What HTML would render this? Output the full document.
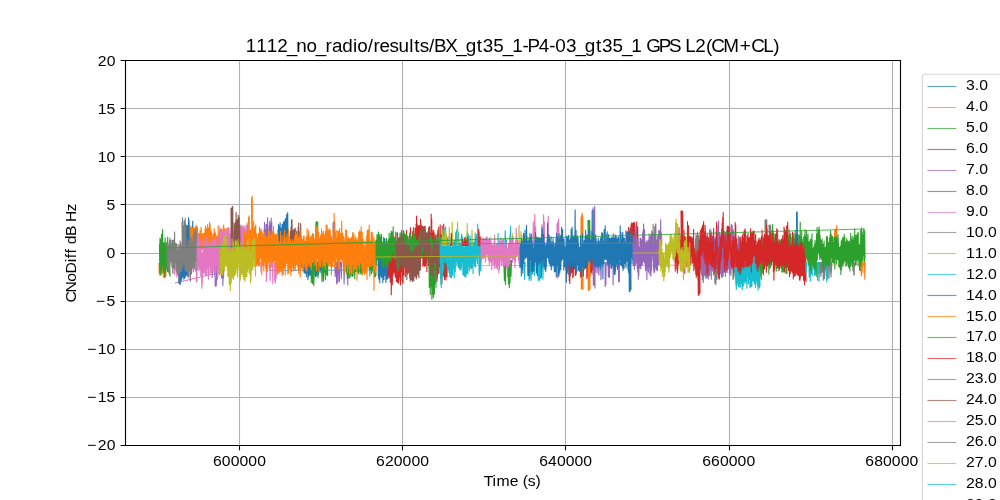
<!DOCTYPE html>
<html><head><meta charset="utf-8"><title>CNoDiff plot</title>
<style>html,body{margin:0;padding:0;background:#fff;overflow:hidden}svg{display:block;will-change:transform}text{font-family:"Liberation Sans",sans-serif}</style>
</head><body>
<svg width="1000" height="500" viewBox="0 0 1000 500" font-family="Liberation Sans, sans-serif">
<defs><clipPath id="clip"><rect x="125" y="60" width="775" height="385"/></clipPath></defs>
<rect width="1000" height="500" fill="#fff"/>
<path d="M239.5 60V445M402.5 60V445M565.5 60V445M729.5 60V445M892.5 60V445M125 108.5H900M125 156.5H900M125 204.5H900M125 253.5H900M125 301.5H900M125 349.5H900M125 397.5H900" stroke="#b0b0b0" stroke-width="1.11" fill="none"/><g clip-path="url(#clip)"><g fill="none" stroke-width="1.11" stroke-linejoin="round"><polyline points="175,266 865,265" stroke="#ff7f0e" stroke-opacity="0.6"/><polyline points="175,283 222,272" stroke="#e377c2"/><polyline points="270,270.5 376,270" stroke="#1f77b4" stroke-opacity="0.7"/><polyline points="159.0,263.1 159.3,273.4 159.5,266.1 159.8,275.2 160.0,263.3 160.3,274.9 160.6,265.5 160.8,273.5 161.1,262.5 161.3,273.0 161.6,259.2 161.9,272.9 162.1,262.6 162.4,271.3 162.6,262.4 162.9,274.1 163.1,265.3 163.4,277.0 163.7,264.6 163.9,270.7 164.2,267.8 164.4,278.0 164.7,267.3 165.0,275.7 165.2,265.9 165.5,276.9 165.7,262.9 166.0,276.1" stroke="#ff7f0e"/><polyline points="174.0,257.0 174.3,274.1 174.5,255.1 174.8,274.3 175.0,251.1 175.3,268.9 175.5,254.2 175.8,269.2 176.0,249.1 176.3,269.4 176.5,256.1 176.8,276.9 177.0,252.1 177.3,273.8 177.5,250.9 177.8,273.9 178.0,258.1 178.3,274.2 178.5,255.0 178.8,274.0 179.1,247.2 179.3,263.5 179.6,249.8 179.8,267.1 180.1,252.5 180.3,268.9 180.6,253.4 180.8,274.3 181.1,246.0 181.3,266.5 181.6,253.1 181.8,275.2 182.1,254.9 182.3,270.6 182.6,251.4 182.8,272.1 183.1,259.4 183.4,279.7 183.6,254.9 183.9,276.8 184.1,259.9 184.4,276.3 184.6,258.5 184.9,272.5 185.1,255.7 185.4,273.5 185.6,251.0 185.9,277.1 186.1,257.8 186.4,275.2 186.6,258.4 186.9,274.2 187.1,255.6 187.4,275.3 187.6,254.1 187.9,275.6 188.2,252.2 188.4,276.8 188.7,256.4 188.9,278.3 189.2,256.8 189.4,275.6 189.7,256.3 189.9,270.8 190.2,250.5 190.4,271.4 190.7,248.2 190.9,267.4 191.2,248.1 191.4,263.6 191.7,247.3 191.9,265.7 192.2,254.9 192.5,268.1 192.7,254.8 193.0,270.9 193.2,253.3 193.5,271.9 193.7,246.5 194.0,268.5 194.2,246.3 194.5,265.8 194.7,252.5 195.0,269.6 195.2,250.8 195.5,270.4 195.7,252.9 196.0,271.6 196.2,253.8 196.5,282.0 196.7,257.2 197.0,282.0" stroke="#e377c2"/><polyline points="178.0,258.6 178.3,275.1 178.5,251.2 178.8,282.9 179.0,261.3 179.3,282.3 179.5,245.5 179.8,284.3 180.1,259.0 180.3,284.3 180.6,249.5 180.8,273.0 181.1,258.1 181.3,280.6 181.6,255.7 181.8,278.3 182.1,258.3 182.4,273.6 182.6,252.6 182.9,277.2 183.1,255.2 183.4,275.6 183.6,255.8 183.9,276.2 184.2,253.1 184.4,278.6 184.7,253.7 184.9,277.2 185.2,256.1 185.4,276.0 185.7,259.5 185.9,275.0 186.2,252.6 186.5,274.8 186.7,246.9 187.0,274.6 187.2,245.0 187.5,272.2 187.7,247.0 188.0,277.0" stroke="#1f77b4"/><polyline points="186.0,227.3 186.3,245.1 186.5,225.3 186.8,241.6 187.0,225.8 187.3,248.3 187.6,227.9 187.8,244.2 188.1,225.1 188.3,250.6 188.6,217.6 188.9,246.9 189.1,220.3 189.4,243.2 189.6,226.5 189.9,248.6 190.1,229.2 190.4,248.1 190.7,234.5 190.9,249.2 191.2,229.2 191.4,250.6 191.7,228.1 192.0,250.4 192.2,226.0 192.5,250.3 192.7,221.2 193.0,244.8" stroke="#1f77b4"/><polyline points="159.5,243.8 159.8,272.9 160.0,238.0 160.3,266.0 160.5,243.4 160.8,275.2 161.0,239.6 161.3,266.2 161.5,234.6 161.8,269.4 162.1,233.9 162.3,258.4 162.6,229.5 162.8,265.2 163.1,243.2 163.3,272.8 163.6,249.5 163.9,271.2 164.1,242.4 164.4,268.5 164.6,247.1 164.9,277.1 165.1,237.8 165.4,273.6 165.6,248.7 165.9,270.3 166.2,243.7 166.4,267.9 166.7,242.6 166.9,263.6 167.2,242.0 167.4,271.7 167.7,237.1 168.0,269.7 168.2,250.1 168.5,271.5 168.7,247.6 169.0,272.8 169.2,251.5 169.5,274.4 169.7,256.2 170.0,276.8" stroke="#2ca02c"/><polyline points="190.0,225.3 190.3,246.3 190.5,230.4 190.8,246.9 191.0,227.5 191.3,248.7 191.5,231.3 191.8,244.8 192.0,228.2 192.3,246.5 192.5,229.1 192.8,244.7 193.0,227.5 193.3,246.4 193.5,231.0 193.8,246.2 194.0,228.0 194.3,244.4 194.5,228.3 194.8,247.8 195.0,230.0 195.3,249.3 195.5,227.2 195.8,245.6 196.0,225.3 196.3,243.6 196.5,230.7 196.8,243.0 197.0,226.4 197.3,255.8 197.5,228.0 197.8,243.8 198.1,234.0 198.3,255.3 198.6,233.9 198.8,251.6 199.1,233.8 199.3,255.7 199.6,234.5 199.8,248.0 200.1,230.6 200.3,245.3 200.6,231.5 200.8,245.8 201.1,227.2 201.3,249.9 201.6,235.5 201.8,248.3 202.1,234.2 202.3,248.7 202.6,233.5 202.8,248.7 203.1,235.9 203.3,247.8 203.6,233.5 203.8,249.9 204.1,235.6 204.3,251.4 204.6,232.7 204.8,252.1 205.1,228.7 205.4,248.2 205.6,226.0 205.9,248.9 206.1,234.4 206.4,254.2 206.6,228.7 206.9,249.4 207.1,231.2 207.4,247.6 207.6,224.6 207.9,243.8 208.1,230.3 208.4,250.6 208.6,227.8 208.9,244.8 209.1,228.5 209.4,242.3 209.6,222.1 209.9,247.3 210.1,224.1 210.4,247.1 210.6,229.3 210.9,246.9 211.1,231.0 211.4,249.8 211.6,232.6 211.9,249.5 212.1,236.6 212.4,252.3 212.6,236.4 212.9,250.9 213.2,234.0 213.4,254.4 213.7,234.9 213.9,246.5 214.2,228.9 214.4,250.0 214.7,231.5 214.9,246.8 215.2,232.6 215.4,251.0 215.7,233.7 215.9,246.5 216.2,235.3 216.4,248.9 216.7,239.9 216.9,254.3 217.2,237.6 217.4,253.5 217.7,236.5 217.9,251.1 218.2,225.6 218.4,248.6 218.7,237.2 218.9,249.7 219.2,234.9 219.4,251.3 219.7,229.0 219.9,249.0 220.2,238.6 220.5,253.3 220.7,233.4 221.0,247.6 221.2,237.4 221.5,253.0 221.7,237.5 222.0,247.5 222.2,234.6 222.5,247.9 222.7,229.5 223.0,243.3 223.2,226.7 223.5,245.6 223.7,224.9 224.0,247.3 224.2,228.9 224.5,240.4 224.7,229.1 225.0,243.6 225.2,232.2 225.5,247.6 225.7,231.5 226.0,249.7 226.2,228.3 226.5,244.7 226.7,235.1 227.0,249.3 227.2,231.5 227.5,245.0 227.7,227.9 228.0,244.9" stroke="#ff7f0e"/><polyline points="167.0,242.8 167.3,266.5 167.5,240.9 167.8,268.5 168.0,243.6 168.3,271.6 168.5,246.1 168.8,271.7 169.0,245.1 169.3,273.5 169.5,240.3 169.8,264.1 170.0,238.1 170.3,262.5 170.5,241.5 170.8,259.1 171.0,240.3 171.3,261.2 171.5,243.8 171.8,266.3 172.0,248.4 172.3,267.4 172.5,240.1 172.8,273.3 173.1,243.3 173.3,269.1 173.6,240.1 173.8,268.0 174.1,242.6 174.3,268.0 174.6,232.0 174.8,263.2 175.1,243.1 175.3,261.2 175.6,244.5 175.8,261.8 176.1,243.3 176.3,272.2 176.6,244.3 176.8,266.8 177.1,253.3 177.3,270.3 177.6,249.8 177.8,274.7 178.1,244.4 178.3,271.8 178.6,251.3 178.8,281.5 179.1,249.1 179.4,273.4 179.6,246.2 179.9,272.2 180.1,240.8 180.4,267.0 180.6,243.0 180.9,270.4 181.1,243.1 181.4,271.1 181.6,247.4 181.9,267.7 182.1,247.8 182.4,267.8 182.6,238.5 182.9,267.5 183.1,237.1 183.4,262.4 183.6,239.2 183.9,261.6 184.1,241.3 184.4,262.7 184.6,245.2 184.9,269.6 185.2,242.6 185.4,269.4 185.7,245.4 185.9,271.3 186.2,245.1 186.4,270.7 186.7,248.2 186.9,271.3 187.2,251.2 187.4,269.1 187.7,248.6 187.9,276.6 188.2,240.5 188.4,270.1 188.7,239.2 188.9,270.3 189.2,242.9 189.4,268.4 189.7,250.1 189.9,270.8 190.2,248.4 190.4,281.3 190.7,236.6 190.9,267.5 191.2,245.1 191.5,274.0 191.7,239.6 192.0,266.0 192.2,242.7 192.5,267.9 192.7,247.0 193.0,267.0 193.2,235.0 193.5,264.1 193.7,240.5 194.0,258.1 194.2,230.0 194.5,268.6 194.7,232.9 195.0,260.1 195.2,235.2 195.5,261.4 195.7,227.7 196.0,254.6 196.2,230.8 196.5,252.3 196.7,239.4 197.0,270.5" stroke="#7f7f7f"/><polyline points="182.0,222.2 182.3,248.6 182.5,217.6 182.8,245.8 183.1,225.5 183.3,245.2 183.6,227.6 183.9,255.8 184.1,220.7 184.4,249.1 184.7,221.0 184.9,247.3 185.2,218.2 185.5,249.2 185.7,223.7 186.0,247.0" stroke="#7f7f7f"/><path d="M211.9 264.0L212.2 277.4L212.4 264.0M214.4 264.0L214.7 275.3L215.0 264.0M215.0 264.0L215.2 285.8L215.3 264.0M215.6 264.0L215.9 286.6L216.3 264.0M215.9 264.0L216.3 284.9L216.8 264.0M216.0 264.0L216.4 274.8L216.8 264.0M221.1 264.0L221.6 277.9L222.2 264.0M222.4 264.0L222.9 280.0L223.4 264.0M222.6 264.0L222.9 285.5L223.3 264.0M223.1 264.0L223.5 277.9L224.0 264.0" stroke="#9467bd"/><polyline points="197.0,242.4 197.3,263.2 197.5,240.1 197.8,266.2 198.0,237.2 198.3,263.7 198.5,235.1 198.8,270.7 199.0,238.1 199.3,265.5 199.5,238.4 199.8,269.3 200.0,246.7 200.3,263.9 200.5,251.4 200.8,275.7 201.0,239.3 201.3,272.3 201.5,251.9 201.8,288.3 202.1,257.1 202.3,284.3 202.6,253.9 202.8,272.6 203.1,240.5 203.3,269.5 203.6,250.1 203.8,273.5 204.1,250.8 204.3,272.1 204.6,244.0 204.8,271.6 205.1,241.5 205.3,275.6 205.6,240.7 205.8,268.9 206.1,235.4 206.3,275.2 206.6,244.8 206.9,267.6 207.1,236.8 207.4,268.5 207.6,242.0 207.9,275.3 208.1,244.1 208.4,279.3 208.6,246.4 208.9,264.8 209.1,241.5 209.4,265.3 209.6,248.3 209.9,274.4 210.1,248.1 210.4,272.3 210.6,245.2 210.9,272.7 211.1,242.5 211.4,270.7 211.7,240.6 211.9,271.4 212.2,243.4 212.4,271.2 212.7,240.3 212.9,270.1 213.2,237.0 213.4,265.2 213.7,245.2 213.9,272.9 214.2,246.0 214.4,265.9 214.7,238.7 214.9,264.4 215.2,242.0 215.4,278.0 215.7,235.7 215.9,260.6 216.2,238.5 216.5,266.4 216.7,244.5 217.0,272.1 217.2,245.8 217.5,279.3 217.7,251.7 218.0,276.6 218.2,243.9 218.5,270.1 218.7,245.2 219.0,269.2 219.2,236.8 219.5,274.4 219.7,238.1 220.0,272.3 220.2,240.8 220.5,265.8 220.7,239.8 221.0,271.3" stroke="#e377c2"/><polyline points="220.0,226.7 220.3,248.6 220.5,229.6 220.8,252.7 221.0,231.2 221.3,248.6 221.5,229.3 221.8,248.0 222.0,233.5 222.3,249.9 222.5,232.4 222.8,251.9 223.0,231.7 223.3,249.0 223.5,227.6 223.8,248.8 224.0,237.1 224.3,254.5 224.5,232.2 224.8,253.0 225.0,230.6 225.3,259.8 225.5,231.3 225.8,248.7 226.1,230.1 226.3,254.1 226.6,233.1 226.8,255.0 227.1,237.7 227.3,253.4 227.6,232.4 227.8,250.8 228.1,235.9 228.3,256.4 228.6,227.6 228.8,250.5 229.1,228.6 229.3,256.8 229.6,236.7 229.8,252.9 230.1,233.6 230.3,254.7 230.6,233.8 230.8,252.9 231.1,227.4 231.4,250.3 231.6,226.6 231.9,247.6 232.1,232.2 232.4,248.7 232.6,233.9 232.9,248.3 233.1,231.6 233.4,254.9 233.6,236.8 233.9,250.3 234.1,239.4 234.4,254.4 234.6,237.5 234.9,257.0 235.1,239.5 235.4,261.2 235.6,238.2 235.9,254.1 236.1,235.7 236.4,254.8 236.6,241.1 236.9,258.6 237.2,243.9 237.4,258.9 237.7,229.3 237.9,252.8 238.2,237.3 238.4,254.4 238.7,235.6 238.9,252.4 239.2,237.2 239.4,253.0 239.7,226.0 239.9,251.0 240.2,225.5 240.4,246.3 240.7,227.6 240.9,254.3 241.2,233.2 241.4,250.7 241.7,225.3 241.9,247.5 242.2,227.2 242.5,245.7 242.7,226.8 243.0,247.4 243.2,227.6 243.5,246.4 243.7,226.1 244.0,246.5 244.2,228.8 244.5,246.7 244.7,229.6 245.0,253.6 245.2,225.9 245.5,245.6 245.7,230.0 246.0,249.9 246.2,231.5 246.5,254.6 246.7,225.3 247.0,249.4 247.2,222.7 247.5,249.5 247.7,228.3 248.0,241.6" stroke="#e377c2"/><polyline points="231.0,208.3 231.3,249.2 231.6,208.4 231.9,250.4 232.1,206.7 232.4,250.9 232.7,206.6 233.0,249.0" stroke="#8c564b"/><polyline points="234.0,222.4 234.3,254.3 234.5,224.7 234.8,251.9 235.0,228.2 235.3,249.1 235.6,221.7 235.8,249.1 236.1,212.4 236.3,243.9 236.6,219.6 236.9,251.2 237.1,221.9 237.4,248.1 237.7,219.3 237.9,258.5 238.2,215.0 238.4,249.4 238.7,223.0 239.0,245.3 239.2,217.2 239.5,252.9 239.7,224.5 240.0,252.2" stroke="#8c564b"/><polyline points="244.0,231.4 244.3,251.1 244.5,231.0 244.8,255.5 245.0,232.3 245.3,258.6 245.5,235.7 245.8,257.3 246.0,236.1 246.3,257.8 246.6,234.5 246.8,265.1 247.1,232.7 247.3,257.2 247.6,224.9 247.8,251.9 248.1,228.2 248.3,254.2 248.6,236.0 248.9,255.7 249.1,235.1 249.4,255.6 249.6,235.9 249.9,249.0 250.1,230.6 250.4,258.4 250.6,235.6 250.9,255.0 251.1,229.5 251.4,261.3 251.7,236.9 251.9,255.4 252.2,227.9 252.4,252.0 252.7,230.3 252.9,253.2 253.2,230.8 253.4,253.9 253.7,221.9 254.0,249.0 254.2,227.8 254.5,249.8 254.7,227.3 255.0,255.7 255.2,228.4 255.5,251.3 255.7,225.0 256.0,251.0" stroke="#ff7f0e"/><polyline points="248.5,216.9 248.8,239.9 249.2,215.9 249.5,239.9" stroke="#ff7f0e"/><polyline points="251.5,197.4 251.8,239.7 252.2,196.4 252.5,239.3" stroke="#ff7f0e"/><polyline points="220.0,249.4 220.3,271.2 220.5,250.8 220.8,275.5 221.0,246.3 221.3,271.2 221.5,252.8 221.8,273.8 222.0,252.0 222.3,275.0 222.5,243.1 222.8,274.3 223.0,244.9 223.3,270.2 223.5,236.7 223.8,264.6 224.0,236.5 224.3,266.8 224.5,240.8 224.8,270.8 225.0,236.0 225.3,265.4 225.5,229.6 225.8,260.1 226.0,235.1 226.3,264.2 226.5,244.8 226.8,265.3 227.0,245.4 227.3,269.5 227.6,251.9 227.8,276.1 228.1,254.0 228.3,276.4 228.6,249.1 228.8,276.0 229.1,250.1 229.3,284.8 229.6,255.0 229.8,280.1 230.1,257.5 230.3,290.4 230.6,252.1 230.8,283.7 231.1,248.6 231.3,282.4 231.6,254.7 231.8,276.7 232.1,238.9 232.3,276.0 232.6,250.1 232.8,278.1 233.1,247.6 233.3,279.4 233.6,241.8 233.8,269.1 234.1,252.5 234.3,275.9 234.6,250.6 234.9,275.0 235.1,244.7 235.4,274.3 235.6,240.0 235.9,272.6 236.1,250.2 236.4,268.6 236.6,241.3 236.9,264.7 237.1,248.1 237.4,276.4 237.6,245.7 237.9,263.7 238.1,239.4 238.4,263.7 238.6,243.5 238.9,270.0 239.1,250.4 239.4,278.6 239.6,246.7 239.9,281.3 240.1,250.8 240.4,279.3 240.6,247.9 240.9,274.8 241.1,242.6 241.4,274.5 241.7,246.9 241.9,271.0 242.2,246.1 242.4,272.8 242.7,250.9 242.9,276.3 243.2,246.5 243.4,274.3 243.7,251.1 243.9,279.4 244.2,248.5 244.4,278.8 244.7,253.8 244.9,281.6 245.2,250.5 245.4,277.7 245.7,253.7 245.9,275.1 246.2,248.9 246.4,276.3 246.7,252.0 246.9,276.7 247.2,242.1 247.4,271.4 247.7,240.5 247.9,264.3 248.2,245.2 248.4,268.1 248.7,250.1 249.0,272.7 249.2,238.4 249.5,272.3 249.7,252.6 250.0,274.5 250.2,248.9 250.5,282.6 250.7,259.1 251.0,278.9 251.2,250.9 251.5,270.6 251.7,246.9 252.0,267.2 252.2,240.9 252.5,265.9 252.7,240.7 253.0,270.0 253.2,241.3 253.5,260.0 253.7,238.4 254.0,261.1 254.2,240.8 254.5,266.2 254.7,240.0 255.0,264.2 255.2,239.2 255.5,276.0 255.7,236.4 256.0,259.1" stroke="#bcbd22"/><path d="M260.8 262.0L261.1 272.1L261.4 262.0M266.1 262.0L266.4 281.5L266.8 262.0M266.2 262.0L266.4 273.0L266.6 262.0M267.1 262.0L267.6 271.1L268.1 262.0M269.8 262.0L270.1 281.0L270.4 262.0M272.4 262.0L272.8 283.8L273.1 262.0M274.6 262.0L274.7 280.5L274.9 262.0M274.9 262.0L275.3 283.1L275.8 262.0M275.4 262.0L275.9 277.9L276.3 262.0M275.8 262.0L276.1 278.4L276.3 262.0M275.9 262.0L276.4 272.4L276.8 262.0M280.2 262.0L280.5 271.1L280.7 262.0M281.4 262.0L281.9 273.1L282.4 262.0M281.7 262.0L282.1 275.6L282.5 262.0" stroke="#e377c2"/><polyline points="264.0,229.4 264.3,243.8 264.5,222.4 264.8,247.5 265.0,230.3 265.3,250.2 265.5,229.2 265.8,243.5 266.1,224.1 266.3,250.8 266.6,225.7 266.8,243.8 267.1,224.3 267.4,249.2 267.6,217.7 267.9,249.3 268.1,229.9 268.4,245.6 268.6,229.5 268.9,245.6 269.2,225.2 269.4,247.7 269.7,221.3 269.9,242.9 270.2,223.5 270.5,249.5 270.7,227.5 271.0,247.3 271.2,218.1 271.5,242.0 271.7,222.1 272.0,240.5" stroke="#9467bd"/><polyline points="278.0,229.5 278.3,246.8 278.5,224.6 278.8,249.6 279.0,229.8 279.3,252.0 279.5,226.2 279.8,250.6 280.1,222.7 280.3,248.3 280.6,228.4 280.8,254.3 281.1,228.0 281.3,247.7 281.6,229.7 281.8,246.1 282.1,224.4 282.4,251.2 282.6,233.8 282.9,255.5 283.1,223.6 283.4,252.4 283.6,221.9 283.9,250.6 284.2,227.9 284.4,255.4 284.7,221.2 284.9,246.4 285.2,218.8 285.4,241.2 285.7,222.4 285.9,249.7 286.2,218.1 286.5,252.9 286.7,214.6 287.0,241.8 287.2,216.1 287.5,248.0 287.7,212.6 288.0,239.8" stroke="#1f77b4"/><polyline points="290.0,235.5 290.3,252.7 290.5,231.2 290.8,261.0 291.0,227.1 291.3,255.3 291.5,220.0 291.8,255.0 292.0,219.9 292.3,246.6 292.6,230.6 292.8,255.7 293.1,230.9 293.3,251.7 293.6,229.7 293.8,250.2 294.1,232.1 294.3,253.5 294.6,228.8 294.9,249.0 295.1,228.0 295.4,254.1 295.6,230.1 295.9,249.3 296.1,231.1 296.4,255.0 296.7,232.3 296.9,251.1 297.2,233.9 297.4,251.5 297.7,232.4 297.9,249.6 298.2,227.0 298.4,252.9 298.7,222.8 299.0,249.3 299.2,232.8 299.5,255.6 299.7,235.8 300.0,252.4 300.2,230.9 300.5,255.0 300.7,223.5 301.0,256.0" stroke="#8c564b"/><polyline points="298.0,257.4 298.3,269.8 298.5,260.7 298.8,268.9 299.0,255.9 299.3,267.3 299.5,252.2 299.8,265.9 300.0,251.9 300.3,261.4 300.5,251.4 300.8,262.6 301.0,251.9 301.3,264.6 301.5,253.7 301.8,267.9 302.0,255.3 302.3,264.5 302.5,254.9 302.8,263.8 303.1,256.4 303.3,269.8 303.6,259.9 303.8,271.9 304.1,256.1 304.3,271.3 304.6,259.1 304.8,273.3 305.1,260.0 305.3,271.4 305.6,259.9 305.8,273.0 306.1,260.8 306.3,276.7 306.6,261.2 306.8,271.1 307.1,260.3 307.3,273.0 307.6,257.6 307.9,279.7 308.1,263.3 308.4,277.0 308.6,262.1 308.9,272.4 309.1,263.2 309.4,275.1 309.6,263.5 309.9,274.7 310.1,262.0 310.4,271.7 310.6,261.5 310.9,275.7 311.1,255.2 311.4,271.2 311.6,256.1 311.9,268.4 312.1,256.2 312.4,267.5 312.7,257.7 312.9,268.6 313.2,254.9 313.4,269.8 313.7,258.0 313.9,268.8 314.2,260.6 314.4,271.6 314.7,258.0 314.9,275.3 315.2,264.4 315.4,276.7 315.7,262.0 315.9,274.6 316.2,267.6 316.4,275.9 316.7,261.9 316.9,273.1 317.2,263.3 317.5,275.0 317.7,263.0 318.0,275.2 318.2,260.2 318.5,274.1 318.7,258.7 319.0,272.3 319.2,257.7 319.5,269.3 319.7,259.8 320.0,269.7 320.2,257.7 320.5,270.6 320.7,259.8 321.0,273.0 321.2,258.5 321.5,265.8 321.7,254.7 322.0,266.0" stroke="#1f77b4"/><path d="M310.9 262.0L311.3 282.4L311.7 262.0M311.1 262.0L311.6 278.5L312.0 262.0M312.1 262.0L312.6 283.8L313.2 262.0M313.3 262.0L313.8 285.4L314.4 262.0M317.1 262.0L317.4 274.6L317.7 262.0M317.6 262.0L318.0 277.7L318.4 262.0M321.6 262.0L322.0 281.5L322.5 262.0M323.0 262.0L323.4 281.2L323.8 262.0M324.2 262.0L324.6 272.4L324.9 262.0M324.9 262.0L325.2 276.7L325.6 262.0M324.9 262.0L325.4 279.7L325.9 262.0M326.3 262.0L326.7 273.8L327.2 262.0M326.3 262.0L326.5 274.6L326.7 262.0M327.4 262.0L327.6 275.7L327.8 262.0" stroke="#2ca02c"/><polyline points="316.0,221.7 316.3,245.6 316.6,221.9 316.9,245.2 317.1,222.9 317.4,244.9 317.7,221.7 318.0,245.2" stroke="#2ca02c"/><polyline points="333.0,222.7 333.3,244.5 333.6,222.0 333.9,244.7 334.1,222.1 334.4,245.2 334.7,221.9 335.0,245.2" stroke="#9467bd"/><path d="M334.7 262.0L335.2 276.5L335.6 262.0M336.2 262.0L336.7 284.0L337.1 262.0M337.0 262.0L337.6 282.6L338.1 262.0M338.8 262.0L339.1 281.6L339.3 262.0M339.0 262.0L339.4 281.6L339.7 262.0M339.1 262.0L339.4 278.7L339.6 262.0M340.7 262.0L341.3 278.5L341.8 262.0M343.6 262.0L344.1 282.7L344.7 262.0M343.7 262.0L344.1 283.9L344.4 262.0M347.5 262.0L347.8 285.1L348.2 262.0" stroke="#9467bd"/><polyline points="346.0,259.9 346.3,271.6 346.5,263.0 346.8,273.9 347.0,261.3 347.3,278.2 347.5,264.5 347.8,278.2 348.0,261.7 348.3,276.1 348.5,262.1 348.8,277.3 349.0,265.0 349.3,276.2 349.5,262.4 349.8,277.9 350.0,260.8 350.3,273.2 350.5,259.2 350.8,275.6 351.0,260.3 351.3,275.7 351.5,259.7 351.8,274.0 352.1,259.1 352.3,276.7 352.6,264.2 352.8,275.2 353.1,259.2 353.3,275.4 353.6,258.3 353.8,267.2 354.1,259.9 354.3,273.6 354.6,259.8 354.8,278.8 355.1,256.7 355.3,268.5 355.6,258.3 355.8,271.5 356.1,253.6 356.3,271.7 356.6,253.5 356.8,270.5 357.1,256.9 357.3,269.2 357.6,258.5 357.8,272.4 358.1,257.8 358.4,269.6 358.6,255.6 358.9,274.3 359.1,258.1 359.4,270.6 359.6,258.3 359.9,271.0 360.1,259.5 360.4,272.3 360.6,262.7 360.9,274.2 361.1,259.8 361.4,271.7 361.6,259.7 361.9,273.2 362.1,256.3 362.4,269.6 362.6,256.3 362.9,270.0 363.1,257.3 363.4,269.8 363.6,257.7 363.9,269.8 364.2,257.0 364.4,269.4 364.7,256.4 364.9,273.8 365.2,258.7 365.4,267.1 365.7,253.6 365.9,266.9 366.2,254.2 366.4,269.4 366.7,252.2 366.9,261.5 367.2,249.2 367.4,261.1 367.7,252.3 367.9,265.2 368.2,254.4 368.4,265.9 368.7,251.8 368.9,265.0 369.2,256.6 369.4,269.2 369.7,260.9 369.9,276.0 370.2,261.4 370.5,269.2 370.7,259.9 371.0,269.6 371.2,257.6 371.5,273.6 371.7,256.0 372.0,268.0 372.2,260.2 372.5,270.2 372.7,258.2 373.0,271.9 373.2,252.5 373.5,268.7 373.7,260.5 374.0,272.6 374.2,260.5 374.5,277.0 374.7,261.1 375.0,275.5 375.2,262.9 375.5,276.5 375.7,262.8 376.0,275.4" stroke="#2ca02c"/><polyline points="256.0,237.3 256.3,265.2 256.5,233.9 256.8,264.4 257.0,237.9 257.3,263.2 257.5,237.7 257.8,259.4 258.0,242.6 258.3,265.5 258.5,233.3 258.8,264.8 259.0,234.3 259.3,265.5 259.5,227.0 259.8,263.6 260.0,235.3 260.3,257.0 260.5,229.6 260.8,258.0 261.0,228.9 261.3,259.1 261.5,235.0 261.8,275.0 262.0,231.6 262.3,264.0 262.5,237.2 262.8,264.8 263.0,233.7 263.3,263.0 263.5,235.9 263.8,270.9 264.0,235.6 264.3,261.0 264.5,242.9 264.8,262.2 265.0,232.1 265.3,265.4 265.5,238.8 265.8,268.4 266.0,238.2 266.3,271.4 266.5,237.1 266.8,261.8 267.0,239.3 267.3,267.1 267.5,236.4 267.8,262.7 268.0,236.7 268.3,261.6 268.5,229.9 268.8,262.1 269.0,234.4 269.3,261.6 269.5,231.5 269.8,270.4 270.0,235.9 270.3,255.4 270.5,235.5 270.8,260.7 271.0,234.6 271.3,267.1 271.5,234.7 271.8,261.8 272.0,231.3 272.3,262.6 272.5,232.2 272.8,259.7 273.0,237.6 273.3,262.3 273.5,226.6 273.8,257.3 274.0,233.8 274.3,260.8 274.5,237.1 274.8,258.0 275.0,233.7 275.3,260.9 275.5,235.4 275.8,269.4 276.0,236.8 276.3,266.9 276.5,234.3 276.8,261.6 277.0,234.2 277.3,274.5 277.5,241.8 277.8,271.3 278.0,236.5 278.3,265.2 278.5,241.3 278.8,273.5 279.0,243.9 279.3,269.8 279.5,243.3 279.8,272.2 280.1,241.6 280.3,271.2 280.6,231.2 280.8,265.7 281.1,244.6 281.3,265.0 281.6,243.1 281.8,270.8 282.1,235.9 282.3,267.4 282.6,243.2 282.8,274.2 283.1,247.4 283.3,274.6 283.6,239.5 283.8,262.0 284.1,234.8 284.3,268.2 284.6,230.3 284.8,264.2 285.1,242.7 285.3,275.0 285.6,241.9 285.8,265.4 286.1,237.0 286.3,263.4 286.6,240.2 286.8,263.3 287.1,234.1 287.3,262.5 287.6,243.3 287.8,274.0 288.1,242.6 288.3,266.6 288.6,229.2 288.8,272.9 289.1,245.5 289.3,268.6 289.6,239.2 289.8,268.7 290.1,240.8 290.3,262.5 290.6,239.5 290.8,275.7 291.1,241.5 291.3,269.8 291.6,243.3 291.8,271.5 292.1,243.4 292.3,265.6 292.6,239.6 292.8,260.9 293.1,243.1 293.3,268.8 293.6,246.4 293.8,271.0 294.1,240.8 294.3,267.5 294.6,236.0 294.8,260.8 295.1,237.3 295.3,270.1 295.6,231.8 295.8,255.9 296.1,235.6 296.3,264.6 296.6,234.1 296.8,259.5 297.1,238.7 297.3,264.1 297.6,231.5 297.8,261.3 298.1,236.4 298.3,262.6 298.6,242.1 298.8,274.0 299.1,238.5 299.3,269.9 299.6,235.2 299.8,262.7 300.1,230.7 300.3,277.0 300.6,242.9 300.8,256.4 301.1,238.8 301.3,261.2 301.6,236.0 301.8,265.1 302.1,239.5 302.3,269.1 302.6,240.4 302.8,263.6 303.1,238.9 303.3,272.1 303.6,236.4 303.8,263.8 304.1,236.0 304.4,262.8 304.6,241.5 304.9,267.0 305.1,241.3 305.4,268.4 305.6,243.6 305.9,269.9 306.1,237.1 306.4,265.9 306.6,240.1 306.9,270.9 307.1,228.5 307.4,264.7 307.6,235.6 307.9,263.9 308.1,236.7 308.4,264.3 308.6,230.9 308.9,266.6 309.1,235.2 309.4,259.9 309.6,238.2 309.9,260.3 310.1,237.7 310.4,266.1 310.6,239.2 310.9,267.2 311.1,236.2 311.4,269.3 311.6,238.6 311.9,257.0 312.1,235.0 312.4,262.3 312.6,233.4 312.9,260.3 313.1,235.5 313.4,262.6 313.6,234.0 313.9,259.0 314.1,241.7 314.4,260.1 314.6,240.0 314.9,264.6 315.1,238.2 315.4,265.6 315.6,225.4 315.9,263.7 316.1,228.5 316.4,270.8 316.6,227.5 316.9,259.1 317.1,225.9 317.4,256.3 317.6,225.8 317.9,258.8 318.1,232.2 318.4,257.5 318.6,232.4 318.9,270.2 319.1,239.8 319.4,264.1 319.6,238.3 319.9,264.5 320.1,237.4 320.4,266.6 320.6,235.1 320.9,264.1 321.1,237.3 321.4,255.8 321.6,228.9 321.9,260.0 322.1,241.4 322.4,260.6 322.6,233.2 322.9,266.9 323.1,233.9 323.4,257.5 323.6,231.3 323.9,265.8 324.1,240.7 324.4,265.2 324.6,234.8 324.9,264.4 325.1,237.1 325.4,269.2 325.6,231.3 325.9,261.2 326.1,224.9 326.4,259.5 326.6,232.0 326.9,262.0 327.1,225.3 327.4,263.0 327.6,243.6 327.9,264.5 328.2,230.3 328.4,262.6 328.7,234.5 328.9,265.7 329.2,228.6 329.4,259.2 329.7,236.8 329.9,263.2 330.2,230.3 330.4,266.1 330.7,236.2 330.9,259.6 331.2,235.9 331.4,274.8 331.7,237.2 331.9,266.2 332.2,240.5 332.4,260.2 332.7,241.4 332.9,266.4 333.2,229.8 333.4,258.2 333.7,228.5 333.9,261.2 334.2,213.3 334.4,257.2 334.7,234.5 334.9,266.4 335.2,232.8 335.4,264.5 335.7,234.2 335.9,266.9 336.2,230.5 336.4,258.2 336.7,237.8 336.9,258.3 337.2,237.8 337.4,262.3 337.7,230.7 337.9,259.9 338.2,237.2 338.4,269.8 338.7,231.2 338.9,262.9 339.2,243.0 339.4,268.3 339.7,228.5 339.9,259.1 340.2,233.3 340.4,258.0 340.7,234.1 340.9,261.6 341.2,234.5 341.4,255.0 341.7,221.1 341.9,258.7 342.2,233.4 342.4,262.0 342.7,233.0 342.9,259.4 343.2,240.5 343.4,260.6 343.7,236.6 343.9,266.9 344.2,238.1 344.4,269.9 344.7,244.7 344.9,273.0 345.2,242.0 345.4,264.0 345.7,229.7 345.9,264.5 346.2,241.3 346.4,260.5 346.7,230.2 346.9,265.0 347.2,241.5 347.4,272.1 347.7,239.3 347.9,259.4 348.2,236.8 348.4,263.5 348.7,237.9 348.9,268.5 349.2,242.7 349.4,275.2 349.7,239.4 349.9,269.5 350.2,242.3 350.4,272.8 350.7,238.2 350.9,269.9 351.2,237.5 351.4,275.7 351.7,243.0 351.9,273.4 352.2,237.0 352.5,264.3 352.7,232.5 353.0,263.6 353.2,233.6 353.5,274.6 353.7,233.7 354.0,269.2 354.2,240.0 354.5,268.9 354.7,240.8 355.0,269.5 355.2,235.9 355.5,264.6 355.7,238.5 356.0,267.9 356.2,240.4 356.5,269.5 356.7,243.7 357.0,280.2 357.2,237.8 357.5,264.5 357.7,242.0 358.0,264.8 358.2,241.4 358.5,260.4 358.7,232.2 359.0,267.5 359.2,236.3 359.5,269.6 359.7,230.6 360.0,258.6 360.2,231.8 360.5,262.8 360.7,238.2 361.0,262.1 361.2,226.7 361.5,266.7 361.7,234.7 362.0,268.7 362.2,232.0 362.5,275.1 362.7,244.3 363.0,273.3 363.2,239.1 363.5,263.1 363.7,250.5 364.0,271.2 364.2,250.5 364.5,274.1 364.7,241.4 365.0,269.3 365.2,246.0 365.5,270.9 365.7,249.3 366.0,272.4 366.2,239.3 366.5,267.0 366.7,235.5 367.0,279.6 367.2,230.5 367.5,267.3 367.7,230.4 368.0,267.1 368.2,230.1 368.5,264.3 368.7,235.9 369.0,266.5 369.2,225.1 369.5,264.1 369.7,239.4 370.0,266.4 370.2,243.5 370.5,266.0 370.7,242.2 371.0,263.1 371.2,232.3 371.5,262.3 371.7,237.2 372.0,265.8 372.2,232.4 372.5,263.3 372.7,236.5 373.0,265.3 373.2,247.3 373.5,273.1 373.7,243.5 374.0,290.2 374.2,237.8 374.5,271.0 374.7,243.6 375.0,265.4 375.2,246.6 375.5,272.6 375.7,242.0 376.0,270.4" stroke="#ff7f0e"/><polyline points="378.0,250.4 378.3,276.5 378.5,249.1 378.8,278.9 379.0,252.7 379.3,279.8 379.5,250.3 379.8,282.7 380.0,242.4 380.3,271.8 380.5,247.2 380.8,275.1 381.1,241.5 381.3,277.4 381.6,248.7 381.8,271.2 382.1,245.8 382.3,276.3 382.6,246.2 382.8,282.8 383.1,253.7 383.3,274.8 383.6,246.7 383.9,279.5 384.1,249.2 384.4,275.2 384.6,238.4 384.9,274.9 385.1,247.5 385.4,275.7 385.6,256.1 385.9,282.6 386.1,249.7 386.4,276.5 386.7,248.7 386.9,279.2 387.2,248.8 387.4,273.9 387.7,253.4 387.9,278.6 388.2,247.9 388.4,274.1 388.7,244.2 388.9,269.1 389.2,246.0 389.5,277.5 389.7,250.0 390.0,271.3 390.2,247.2 390.5,279.6 390.7,257.4 391.0,277.3 391.2,246.8 391.5,276.8 391.7,256.2 392.0,281.9" stroke="#1f77b4"/><polyline points="388.0,257.7 388.3,275.0 388.5,253.4 388.8,276.9 389.0,247.1 389.3,273.5 389.5,245.5 389.8,269.0 390.0,261.4 390.3,282.1 390.5,253.3 390.8,278.6 391.0,264.3 391.3,294.8 391.6,256.6 391.8,283.1 392.1,249.6 392.3,284.6 392.6,247.1 392.8,275.2 393.1,237.0 393.3,273.2 393.6,250.8 393.8,272.1 394.1,236.9 394.3,271.3 394.6,238.2 394.9,274.7 395.1,249.8 395.4,277.3 395.6,254.6 395.9,275.8 396.1,258.8 396.4,281.4 396.6,256.1 396.9,278.1 397.1,258.1 397.4,282.3 397.7,254.5 397.9,270.3 398.2,254.1 398.4,283.2 398.7,252.8 398.9,277.3 399.2,246.8 399.4,273.0 399.7,248.5 399.9,279.8 400.2,254.9 400.4,285.0 400.7,246.9 401.0,269.3 401.2,244.9 401.5,272.1 401.7,252.7 402.0,279.9 402.2,255.7 402.5,282.3 402.7,257.2 403.0,283.3 403.2,253.9 403.5,274.7 403.7,256.9 404.0,275.5" stroke="#d62728"/><polyline points="376.0,239.8 376.3,264.8 376.5,241.1 376.8,260.5 377.0,234.4 377.3,259.0 377.5,239.9 377.8,259.3 378.0,235.9 378.3,256.6 378.5,232.0 378.8,258.8 379.0,235.4 379.3,257.6 379.5,237.2 379.8,254.5 380.0,234.2 380.3,257.6 380.5,239.8 380.8,258.0 381.1,237.3 381.3,262.3 381.6,234.6 381.8,263.6 382.1,243.4 382.3,267.4 382.6,243.4 382.8,261.7 383.1,242.2 383.3,265.9 383.6,237.6 383.8,261.7 384.1,244.8 384.3,263.3 384.6,244.1 384.8,267.2 385.1,250.3 385.3,265.9 385.6,243.3 385.9,257.5 386.1,239.0 386.4,262.6 386.6,238.4 386.9,265.3 387.1,243.7 387.4,263.5 387.6,247.4 387.9,268.1 388.1,241.0 388.4,258.2 388.6,239.2 388.9,261.5 389.1,233.4 389.4,256.3 389.6,241.8 389.9,260.2 390.1,238.6 390.4,258.0 390.7,233.2 390.9,262.2 391.2,231.0 391.4,254.0 391.7,232.1 391.9,252.5 392.2,233.3 392.4,251.1 392.7,231.6 392.9,254.4 393.2,226.9 393.4,258.1 393.7,238.1 393.9,251.6 394.2,242.7 394.4,254.9 394.7,238.1 394.9,259.3 395.2,238.1 395.5,260.1 395.7,232.0 396.0,259.2 396.2,241.0 396.5,261.8 396.7,243.1 397.0,267.4 397.2,247.5 397.5,270.4 397.7,249.6 398.0,271.1 398.2,248.3 398.5,266.8 398.7,238.0 399.0,262.4 399.2,240.9 399.5,262.8 399.7,243.5 400.0,256.3" stroke="#2ca02c"/><polyline points="404.0,242.7 404.3,267.5 404.5,246.6 404.8,267.4 405.0,251.0 405.3,276.7 405.5,235.3 405.8,265.4 406.0,239.8 406.3,271.0 406.5,230.3 406.8,263.3 407.0,240.5 407.3,270.9 407.5,243.7 407.8,274.3 408.0,240.2 408.3,272.1 408.5,242.2 408.8,272.5 409.0,236.2 409.3,264.5 409.5,243.1 409.8,268.9 410.0,246.3 410.3,278.0 410.5,227.6 410.8,268.4 411.0,242.9 411.3,264.5 411.5,240.5 411.8,268.6 412.0,236.7 412.3,268.7 412.5,231.5 412.8,261.9 413.1,238.5 413.3,265.3 413.6,233.7 413.8,260.2 414.1,241.6 414.3,261.7 414.6,235.2 414.8,262.4 415.1,228.3 415.3,276.9 415.6,235.3 415.8,258.4 416.1,224.2 416.3,260.6 416.6,216.1 416.8,256.5 417.1,223.5 417.3,266.5 417.6,225.9 417.8,264.3 418.1,231.8 418.3,263.6 418.6,225.7 418.8,264.7 419.1,233.8 419.3,259.3 419.6,225.5 419.8,254.8 420.1,225.9 420.3,256.9 420.6,219.2 420.8,256.1 421.1,224.8 421.4,258.1 421.6,226.7 421.9,255.9 422.1,227.4 422.4,252.6 422.6,230.9 422.9,266.0 423.1,232.9 423.4,261.5 423.6,227.5 423.9,264.9 424.1,228.4 424.4,266.3 424.6,226.2 424.9,260.1 425.1,229.3 425.4,265.8 425.6,232.7 425.9,260.0 426.1,234.1 426.4,262.8 426.6,235.1 426.9,271.8 427.1,233.4 427.4,257.2 427.6,235.2 427.9,256.9 428.1,232.4 428.4,265.5 428.6,228.1 428.9,262.6 429.1,231.7 429.4,269.5 429.6,226.6 429.9,267.7 430.2,244.9 430.4,265.2 430.7,233.3 430.9,262.2 431.2,214.1 431.4,258.9 431.7,219.1 431.9,261.6 432.2,230.1 432.4,269.2 432.7,232.7 432.9,272.5 433.2,233.6 433.4,266.7 433.7,230.5 433.9,258.8 434.2,232.6 434.4,263.1 434.7,238.5 434.9,268.1 435.2,245.4 435.4,273.3 435.7,235.0 435.9,269.7 436.2,241.7 436.4,262.8 436.7,244.2 436.9,278.9 437.2,233.7 437.4,276.3 437.7,233.7 437.9,273.9 438.2,234.9 438.5,266.8 438.7,227.2 439.0,273.2 439.2,239.4 439.5,266.5 439.7,239.7 440.0,262.2 440.2,224.7 440.5,262.5 440.7,239.3 441.0,259.4 441.2,235.3 441.5,273.7 441.7,234.2 442.0,258.9 442.2,225.8 442.5,262.4 442.7,238.9 443.0,274.1 443.2,235.3 443.5,263.4 443.7,224.0 444.0,258.5 444.2,234.2 444.5,279.6 444.7,237.0 445.0,269.7 445.2,243.1 445.5,277.8 445.7,245.2 446.0,279.9 446.2,250.5 446.5,276.0 446.7,247.0 447.0,277.0" stroke="#d62728"/><polyline points="400.0,239.3 400.3,255.8 400.5,236.7 400.8,256.0 401.0,232.6 401.3,249.1 401.5,230.3 401.8,249.3 402.0,238.6 402.3,250.7 402.5,233.9 402.8,249.6 403.0,235.3 403.3,254.4 403.5,230.8 403.8,253.2 404.0,231.4 404.3,252.4 404.5,233.8 404.8,257.9 405.0,235.5 405.3,252.2 405.5,235.8 405.8,251.9 406.0,233.8 406.3,250.7 406.5,236.8 406.8,255.7 407.0,235.1 407.3,256.2 407.5,236.5 407.8,255.1 408.0,241.7 408.3,259.8 408.5,240.6 408.8,258.7 409.0,239.1 409.3,253.5 409.6,233.0 409.8,249.3 410.1,235.3 410.3,255.3 410.6,233.2 410.8,257.6 411.1,242.2 411.3,257.9 411.6,237.7 411.8,259.0 412.1,239.2 412.3,256.3 412.6,237.9 412.8,252.4 413.1,232.8 413.3,256.0 413.6,227.3 413.8,250.3 414.1,234.1 414.3,256.1 414.6,236.1 414.8,257.6 415.1,236.6 415.3,256.8 415.6,236.1 415.8,257.7 416.1,240.6 416.3,261.8 416.6,240.5 416.8,255.0 417.1,240.8 417.3,262.1 417.6,241.3 417.8,260.3 418.1,246.0 418.3,261.5 418.6,241.4 418.9,265.8 419.1,236.0 419.4,259.3 419.6,236.7 419.9,254.4 420.1,234.0 420.4,255.3 420.6,231.4 420.9,255.2 421.1,240.9 421.4,253.5 421.6,237.7 421.9,257.8 422.1,233.9 422.4,254.9 422.6,231.3 422.9,250.4 423.1,227.3 423.4,248.1 423.6,230.9 423.9,251.7 424.1,231.5 424.4,248.8 424.6,230.2 424.9,250.3 425.1,235.2 425.4,254.9 425.6,237.8 425.9,251.5 426.1,239.6 426.4,257.6 426.6,238.9 426.9,257.5 427.1,236.7 427.4,258.2 427.6,237.1 427.9,253.1 428.1,238.1 428.4,253.8 428.7,239.9 428.9,253.8 429.2,239.1 429.4,258.3 429.7,243.0 429.9,257.8 430.2,235.6 430.4,255.5 430.7,236.7 430.9,252.9 431.2,235.8 431.4,255.8 431.7,238.0 431.9,264.7 432.2,242.2 432.4,260.1 432.7,242.5 432.9,261.2 433.2,244.6 433.4,258.5 433.7,241.9 433.9,252.0 434.2,240.0 434.4,258.0 434.7,242.3 434.9,256.4 435.2,241.4 435.4,257.6 435.7,239.1 435.9,257.2 436.2,240.5 436.4,264.0 436.7,240.8 436.9,256.6 437.2,234.5 437.4,250.6 437.7,230.4 438.0,256.2 438.2,236.7 438.5,253.9 438.7,239.3 439.0,263.6 439.2,238.1 439.5,259.2 439.7,242.9 440.0,261.3 440.2,238.2 440.5,256.5 440.7,241.0 441.0,266.4 441.2,243.4 441.5,261.7 441.7,241.5 442.0,259.4 442.2,244.6 442.5,261.4 442.7,239.9 443.0,258.6 443.2,244.9 443.5,265.0 443.7,238.0 444.0,256.6 444.2,239.3 444.5,260.9 444.7,245.1 445.0,261.6 445.2,245.1 445.5,265.6 445.7,242.9 446.0,264.1 446.2,245.7 446.5,261.4 446.7,248.2 447.0,263.0" stroke="#2ca02c"/><polyline points="429.0,258.3 429.3,287.5 429.5,261.8 429.8,286.7 430.0,250.4 430.3,294.4 430.6,256.9 430.8,286.5 431.1,251.2 431.3,282.8 431.6,251.2 431.9,299.3 432.1,264.0 432.4,294.0 432.6,265.3 432.9,292.5 433.1,253.3 433.4,297.6 433.7,239.6 433.9,283.5 434.2,255.2 434.4,294.3 434.7,249.9 435.0,282.3 435.2,251.3 435.5,283.4 435.7,257.4 436.0,287.8" stroke="#2ca02c"/><polyline points="396.0,244.3 396.3,266.1 396.5,242.0 396.8,268.7 397.0,232.9 397.3,259.7 397.5,232.8 397.8,246.4 398.0,238.5 398.3,256.9 398.5,238.8 398.8,258.4 399.0,243.9 399.3,270.5 399.5,237.2 399.8,263.6 400.0,233.4 400.3,265.8 400.5,243.2 400.8,264.6 401.0,243.2 401.3,261.1 401.5,233.2 401.8,261.4 402.0,238.4 402.3,266.1 402.5,243.6 402.8,268.2 403.0,236.0 403.3,265.1 403.5,237.5 403.8,263.5 404.0,244.9 404.3,267.5 404.5,241.6 404.8,256.4 405.0,243.2 405.3,265.1 405.5,244.0 405.8,272.6 406.0,253.9 406.3,270.3 406.6,252.7 406.8,279.5 407.1,244.1 407.3,271.9 407.6,254.6 407.8,272.7 408.1,248.7 408.3,266.9 408.6,244.5 408.8,266.4 409.1,248.1 409.3,266.1 409.6,251.3 409.8,278.2 410.1,252.1 410.3,281.1 410.6,260.0 410.8,279.6 411.1,255.3 411.3,277.7 411.6,251.4 411.8,279.8 412.1,257.0 412.3,281.4 412.6,252.7 412.8,279.9 413.1,250.8 413.3,274.5 413.6,251.9 413.8,280.9 414.1,250.4 414.3,269.1 414.6,247.0 414.8,275.8 415.1,247.7 415.3,274.4 415.6,247.5 415.8,274.9 416.1,256.5 416.3,278.9 416.6,246.9 416.9,276.9 417.1,252.6 417.4,274.1 417.6,246.0 417.9,272.8 418.1,246.1 418.4,274.7 418.6,248.7 418.9,277.7 419.1,246.5 419.4,265.9 419.6,240.3 419.9,270.4 420.1,240.1 420.4,269.4 420.6,235.2 420.9,252.9 421.1,229.9 421.4,257.2 421.6,228.5 421.9,245.8 422.1,228.5 422.4,247.0 422.6,226.0 422.9,246.5 423.1,226.4 423.4,248.1 423.6,227.1 423.9,249.2 424.1,231.6 424.4,254.3 424.6,231.3 424.9,256.5 425.1,226.6 425.4,257.5 425.6,234.6 425.9,260.8 426.1,232.4 426.4,260.4 426.7,240.0 426.9,260.5 427.2,233.8 427.4,254.9 427.7,236.8 427.9,252.3 428.2,231.1 428.4,250.7 428.7,228.0 428.9,247.9 429.2,229.7 429.4,260.3 429.7,242.4 429.9,259.9 430.2,244.7 430.4,264.5 430.7,247.4 430.9,273.6 431.2,256.3 431.4,275.2 431.7,259.3 431.9,274.9 432.2,257.5 432.4,274.2 432.7,250.1 432.9,276.8 433.2,246.8 433.4,266.0 433.7,236.4 433.9,263.4 434.2,246.5 434.4,262.1 434.7,240.0 434.9,259.1 435.2,237.0 435.4,261.4 435.7,236.2 435.9,263.4 436.2,240.0 436.4,260.8 436.7,247.2 437.0,281.5 437.2,246.4 437.5,270.3 437.7,244.6 438.0,271.6 438.2,243.3 438.5,269.7 438.7,241.4 439.0,264.9 439.2,241.1 439.5,262.8 439.7,246.8 440.0,265.5 440.2,248.0 440.5,278.4 440.7,245.0 441.0,272.5 441.2,250.2 441.5,268.6 441.7,245.5 442.0,283.4 442.2,243.6 442.5,274.2 442.7,255.9 443.0,275.6 443.2,238.5 443.5,266.5 443.7,240.8 444.0,276.2 444.2,246.3 444.5,265.6 444.7,241.4 445.0,270.7 445.2,239.9 445.5,263.8 445.7,249.2 446.0,268.8 446.2,241.9 446.5,261.4 446.7,249.5 447.0,264.0" stroke="#8c564b"/><polyline points="440.0,237.3 440.3,263.7 440.5,254.3 440.8,284.6 441.0,244.3 441.3,287.6 441.5,247.9 441.8,269.5 442.0,242.3 442.3,278.0 442.5,248.7 442.8,272.2 443.0,237.9 443.3,269.4 443.5,235.9 443.8,262.9 444.0,236.0 444.3,258.7 444.5,228.5 444.8,255.1 445.0,234.9 445.3,262.4 445.5,226.8 445.8,259.7 446.0,240.5 446.3,263.1 446.5,240.7 446.8,264.0 447.0,238.2 447.3,266.4 447.5,245.1 447.8,272.8 448.0,236.4 448.3,269.8 448.6,241.5 448.8,268.8 449.1,244.5 449.3,272.8 449.6,245.4 449.8,277.0 450.1,249.7 450.3,277.2 450.6,243.7 450.8,275.4 451.1,250.2 451.3,277.7 451.6,247.3 451.8,276.7 452.1,248.1 452.3,273.7 452.6,240.5 452.8,275.1 453.1,246.0 453.3,265.9 453.6,242.0 453.8,268.2 454.1,245.5 454.3,278.0 454.6,240.3 454.8,265.2 455.1,243.9 455.3,271.4 455.6,232.8 455.8,261.2 456.1,231.7 456.3,256.0 456.6,229.8 456.9,265.8 457.1,235.3 457.4,261.8 457.6,239.0 457.9,263.6 458.1,244.5 458.4,267.4 458.6,232.1 458.9,259.9 459.1,240.2 459.4,268.5 459.6,243.4 459.9,269.1 460.1,246.6 460.4,269.8 460.6,243.6 460.9,270.1 461.1,237.4 461.4,267.8 461.6,234.1 461.9,261.3 462.1,236.1 462.4,262.5 462.6,237.5 462.9,274.6 463.1,248.3 463.4,270.8 463.6,246.7 463.9,275.7 464.1,247.5 464.4,272.9 464.7,246.7 464.9,276.4 465.2,246.1 465.4,275.0 465.7,236.7 465.9,277.3 466.2,243.4 466.4,268.9 466.7,243.9 466.9,273.6 467.2,231.7 467.4,266.1 467.7,240.9 467.9,274.0 468.2,238.4 468.4,263.6 468.7,234.0 468.9,264.1 469.2,243.1 469.4,270.8 469.7,246.2 469.9,267.9 470.2,236.2 470.4,266.5 470.7,242.9 470.9,267.5 471.2,242.5 471.4,268.9 471.7,245.5 471.9,266.3 472.2,242.6 472.4,267.6 472.7,250.0 473.0,273.5 473.2,244.5 473.5,263.4 473.7,242.3 474.0,263.5 474.2,241.2 474.5,266.0 474.7,241.4 475.0,264.1 475.2,232.9 475.5,266.9 475.7,239.7 476.0,261.9 476.2,237.4 476.5,258.4 476.7,234.4 477.0,258.3 477.2,236.1 477.5,263.8 477.7,224.0 478.0,255.6 478.2,232.3 478.5,256.4 478.7,232.1 479.0,273.0 479.2,239.0 479.5,275.5 479.7,238.5 480.0,270.6 480.2,240.5 480.5,270.8 480.7,243.2 481.0,268.9" stroke="#17becf"/><path d="M441.9 246.0L442.3 232.9L442.6 246.0M442.8 246.0L443.0 229.4L443.3 246.0M444.0 246.0L444.4 237.1L444.8 246.0M444.8 246.0L445.1 229.9L445.3 246.0M445.5 246.0L445.7 231.0L446.0 246.0M445.9 246.0L446.3 233.8L446.7 246.0M449.0 246.0L449.3 227.4L449.6 246.0M451.9 246.0L452.2 222.3L452.4 246.0M451.9 246.0L452.4 234.2L452.9 246.0M457.3 246.0L457.6 222.1L458.0 246.0M466.5 246.0L466.9 234.3L467.3 246.0M467.0 246.0L467.2 223.5L467.3 246.0M471.6 246.0L472.0 230.1L472.4 246.0M478.8 246.0L479.3 232.1L479.7 246.0" stroke="#bcbd22"/><path d="M450.8 246.0L451.3 233.3L451.8 246.0M462.3 246.0L462.8 239.3L463.3 246.0M464.0 246.0L464.6 237.8L465.2 246.0M465.2 246.0L465.8 239.5L466.4 246.0M467.0 246.0L467.4 238.0L467.7 246.0M467.1 246.0L467.6 237.1L468.1 246.0M478.3 246.0L478.7 229.3L479.1 246.0M479.9 246.0L480.2 236.5L480.5 246.0" stroke="#d62728"/><path d="M503.8 260.0L504.4 280.7L505.0 260.0M505.1 260.0L505.5 284.6L505.9 260.0M507.7 260.0L507.8 276.8L508.0 260.0M507.9 260.0L508.5 283.9L509.1 260.0M508.8 260.0L509.3 287.8L509.8 260.0M509.6 260.0L510.0 282.6L510.4 260.0M510.5 260.0L511.0 276.2L511.5 260.0" stroke="#2ca02c"/><path d="M509.6 250.0L509.8 237.8L510.0 250.0M509.8 250.0L510.1 240.9L510.3 250.0M512.0 250.0L512.3 233.5L512.6 250.0M518.9 250.0L519.1 225.0L519.4 250.0M519.2 250.0L519.5 240.3L519.9 250.0M520.6 250.0L521.0 231.5L521.4 250.0M521.2 250.0L521.7 235.3L522.2 250.0M522.1 250.0L522.4 239.5L522.7 250.0M525.1 250.0L525.3 240.6L525.5 250.0M526.0 250.0L526.5 226.6L527.0 250.0M528.7 250.0L528.9 240.2L529.2 250.0M534.1 250.0L534.6 233.9L535.1 250.0" stroke="#bcbd22"/><path d="M497.9 250.0L498.1 233.5L498.3 250.0M499.8 250.0L500.4 239.4L500.9 250.0M504.7 250.0L505.2 230.5L505.8 250.0M506.1 250.0L506.4 240.1L506.7 250.0M509.6 250.0L510.1 234.5L510.6 250.0M510.3 250.0L510.5 226.0L510.7 250.0" stroke="#17becf"/><polyline points="481.0,239.7 481.3,262.8 481.5,240.1 481.8,257.7 482.0,237.6 482.3,257.5 482.5,239.1 482.8,259.0 483.0,239.7 483.3,257.8 483.5,242.0 483.8,256.9 484.0,238.0 484.3,257.4 484.5,241.7 484.8,257.1 485.0,239.4 485.3,262.3 485.5,241.2 485.8,259.0 486.0,238.1 486.3,253.9 486.5,237.7 486.8,254.1 487.0,236.5 487.3,252.9 487.5,240.4 487.8,257.0 488.0,241.1 488.3,260.3 488.5,240.5 488.8,254.5 489.1,239.1 489.3,264.7 489.6,243.3 489.8,261.6 490.1,237.4 490.3,261.7 490.6,242.8 490.8,259.5 491.1,240.8 491.3,262.8 491.6,244.9 491.8,269.8 492.1,248.8 492.3,264.4 492.6,244.9 492.8,259.9 493.1,245.5 493.3,259.3 493.6,245.5 493.8,264.7 494.1,241.0 494.3,263.6 494.6,235.4 494.8,268.5 495.1,243.0 495.3,263.7 495.6,246.5 495.8,262.5 496.1,245.7 496.3,267.6 496.6,243.6 496.9,264.3 497.1,247.2 497.4,269.3 497.6,245.3 497.9,263.6 498.1,244.8 498.4,265.0 498.6,249.3 498.9,272.9 499.1,247.5 499.4,269.2 499.6,241.0 499.9,264.7 500.1,243.1 500.4,257.1 500.6,237.7 500.9,258.6 501.1,238.9 501.4,264.5 501.6,242.6 501.9,260.9 502.1,243.9 502.4,257.1 502.6,240.1 502.9,266.1 503.1,239.5 503.4,257.2 503.6,239.6 503.9,261.0 504.1,246.6 504.4,266.3 504.7,245.6 504.9,262.1 505.2,246.8 505.4,264.9 505.7,242.9 505.9,262.6 506.2,242.5 506.4,267.9 506.7,251.4 506.9,268.0 507.2,250.2 507.4,268.7 507.7,248.0 507.9,267.1 508.2,243.3 508.4,265.7 508.7,246.6 508.9,266.6 509.2,243.1 509.4,262.5 509.7,244.6 509.9,264.0 510.2,241.2 510.4,254.7 510.7,239.3 510.9,258.1 511.2,238.1 511.4,255.0 511.7,240.7 511.9,257.8 512.2,243.4 512.5,262.2 512.7,238.4 513.0,254.3 513.2,236.6 513.5,258.4 513.7,244.3 514.0,260.1 514.2,244.9 514.5,258.5 514.7,246.1 515.0,267.7 515.2,241.7 515.5,262.0 515.7,239.7 516.0,256.7 516.2,228.1 516.5,252.0 516.7,235.0 517.0,256.3 517.2,239.3 517.5,254.9 517.7,240.5 518.0,255.5 518.2,242.9 518.5,260.3 518.7,243.3 519.0,263.4 519.2,249.4 519.5,267.1 519.7,248.8 520.0,267.9" stroke="#e377c2"/><path d="M532.9 245.0L533.3 221.9L533.6 245.0M534.3 245.0L534.8 214.4L535.2 245.0M534.7 245.0L535.0 232.7L535.3 245.0M535.0 245.0L535.5 226.8L535.9 245.0M541.7 245.0L541.9 224.6L542.1 245.0M543.0 245.0L543.6 214.8L544.1 245.0M544.1 245.0L544.3 221.9L544.6 245.0M547.9 245.0L548.2 216.4L548.5 245.0" stroke="#e377c2"/><polyline points="557.0,223.4 557.3,278.2 557.6,222.4 557.9,277.5 558.1,221.3 558.4,276.7 558.7,219.0 559.0,276.5" stroke="#e377c2"/><path d="M524.0 262.0L524.6 279.4L525.1 262.0M528.5 262.0L529.1 280.3L529.6 262.0M529.4 262.0L529.7 278.6L529.9 262.0M530.5 262.0L531.0 280.5L531.5 262.0M530.7 262.0L531.1 272.5L531.6 262.0M533.2 262.0L533.7 271.4L534.3 262.0M533.7 262.0L534.3 275.6L534.9 262.0M537.1 262.0L537.4 274.5L537.6 262.0M537.8 262.0L538.2 280.3L538.5 262.0M537.9 262.0L538.3 274.6L538.8 262.0M538.8 262.0L539.0 280.7L539.2 262.0M539.5 262.0L539.7 279.7L539.8 262.0M540.3 262.0L540.6 278.3L540.9 262.0M542.5 262.0L542.9 279.2L543.4 262.0" stroke="#17becf"/><polyline points="568.0,260.9 568.3,268.0 568.5,257.4 568.8,274.7 569.0,260.9 569.3,281.0 569.5,268.2 569.8,283.7 570.0,263.5 570.3,276.1 570.5,260.1 570.8,273.9 571.0,261.5 571.3,272.8 571.5,257.3 571.8,272.0 572.0,259.0 572.3,269.7 572.5,260.0 572.8,277.6 573.0,258.0 573.3,276.7 573.6,256.9 573.8,268.9 574.1,253.4 574.3,268.1 574.6,253.6 574.8,267.5 575.1,260.4 575.3,275.0 575.6,260.3 575.8,275.6 576.1,260.9 576.3,273.7 576.6,256.8 576.8,271.5 577.1,249.0 577.3,260.1 577.6,244.7 577.8,256.2 578.1,243.4 578.3,258.8 578.6,247.6 578.9,263.7 579.1,253.2 579.4,268.4 579.6,259.9 579.9,271.2 580.1,261.5 580.4,277.1 580.6,256.2 580.9,274.3 581.1,249.1 581.4,266.2 581.6,246.4 581.9,262.8 582.1,253.8 582.4,265.5 582.6,250.2 582.9,268.3 583.1,247.4 583.4,260.6 583.6,250.9 583.9,263.9 584.1,246.8 584.4,262.2 584.7,249.8 584.9,265.3 585.2,254.2 585.4,268.3 585.7,252.7 585.9,266.6 586.2,253.9 586.4,267.3 586.7,261.5 586.9,278.4 587.2,264.0 587.4,275.9 587.7,265.7 587.9,276.2 588.2,261.4 588.4,279.0 588.7,262.5 588.9,271.7 589.2,263.1 589.4,278.6 589.7,261.0 590.0,276.4 590.2,257.4 590.5,271.2 590.7,256.1 591.0,272.0 591.2,258.0 591.5,267.9 591.7,258.1 592.0,273.8 592.2,255.7 592.5,266.2 592.7,247.0 593.0,269.6 593.2,248.6 593.5,258.5 593.7,248.5 594.0,265.1 594.2,253.2 594.5,265.9 594.7,252.6 595.0,272.5" stroke="#d62728"/><polyline points="581.0,216.9 581.3,289.1 581.6,215.7 581.9,288.7 582.1,213.0 582.4,288.8 582.7,215.2 583.0,289.7" stroke="#ff7f0e"/><polyline points="588.0,249.6 588.3,290.2 588.6,248.7 588.9,290.5 589.1,248.3 589.4,289.6 589.7,249.4 590.0,289.1" stroke="#ff7f0e"/><polyline points="588.0,220.1 588.3,244.8 588.6,220.8 588.9,244.7 589.1,220.9 589.4,245.6 589.7,220.2 590.0,244.8" stroke="#2ca02c"/><polyline points="593.0,207.5 593.3,284.9 593.6,212.1 593.9,284.9 594.1,209.7 594.4,285.4 594.7,206.2 595.0,288.5" stroke="#9467bd"/><path d="M596.4 262.0L597.0 273.0L597.6 262.0M598.4 262.0L598.9 275.1L599.4 262.0M600.5 262.0L601.0 279.7L601.4 262.0M605.0 262.0L605.2 286.5L605.4 262.0M605.4 262.0L605.8 284.4L606.2 262.0M608.0 262.0L608.4 277.1L608.9 262.0M609.2 262.0L609.5 277.3L609.8 262.0M613.0 262.0L613.1 284.7L613.3 262.0M613.9 262.0L614.4 274.1L615.0 262.0M614.7 262.0L615.2 274.1L615.7 262.0M618.4 262.0L618.6 282.0L618.7 262.0M619.0 262.0L619.3 281.4L619.5 262.0" stroke="#9467bd"/><polyline points="626.0,230.6 626.3,255.5 626.5,233.9 626.8,251.5 627.0,233.2 627.3,257.8 627.5,232.1 627.8,257.4 628.0,232.8 628.3,255.4 628.6,227.2 628.8,250.0 629.1,231.5 629.3,246.1 629.6,233.9 629.8,247.0 630.1,228.2 630.3,251.4 630.6,229.7 630.9,247.9 631.1,224.6 631.4,249.1 631.6,223.1 631.9,238.0 632.1,223.3 632.4,242.2 632.6,223.6 632.9,244.8 633.1,223.8 633.4,245.2 633.7,222.6 633.9,243.2 634.2,222.3 634.4,247.6 634.7,223.5 634.9,249.5 635.2,229.9 635.4,253.8 635.7,233.9 636.0,252.2 636.2,233.7 636.5,250.9 636.7,221.8 637.0,250.7 637.2,232.2 637.5,253.9 637.7,226.9 638.0,252.7" stroke="#d62728"/><polyline points="520.0,246.9 520.3,266.6 520.5,243.3 520.8,261.1 521.0,250.1 521.3,275.9 521.5,239.2 521.8,268.9 522.0,240.8 522.3,266.5 522.5,241.7 522.8,273.3 523.0,248.1 523.3,262.7 523.5,233.4 523.8,263.4 524.0,234.8 524.3,260.0 524.5,241.2 524.8,254.4 525.0,230.0 525.3,257.7 525.5,239.4 525.8,258.5 526.0,241.2 526.3,256.4 526.5,225.2 526.8,256.7 527.0,236.7 527.3,257.4 527.5,241.1 527.8,275.4 528.0,242.1 528.3,270.9 528.5,241.0 528.8,275.6 529.0,237.9 529.3,272.4 529.5,247.4 529.8,261.2 530.0,233.3 530.3,259.0 530.5,237.1 530.8,260.7 531.0,245.0 531.3,271.5 531.5,234.2 531.8,267.8 532.0,240.5 532.3,273.9 532.5,244.0 532.8,270.4 533.0,248.5 533.3,269.6 533.5,249.1 533.8,271.2 534.0,243.4 534.3,264.7 534.5,245.9 534.8,262.4 535.0,240.1 535.3,261.5 535.5,232.6 535.8,259.8 536.0,236.2 536.3,272.6 536.5,237.3 536.8,266.3 537.0,248.3 537.3,275.5 537.5,238.0 537.8,261.6 538.0,245.6 538.3,265.3 538.5,237.6 538.8,264.2 539.0,238.3 539.3,262.8 539.5,238.4 539.8,258.7 540.0,239.9 540.3,262.9 540.5,238.4 540.8,261.1 541.0,240.9 541.3,277.5 541.5,235.0 541.8,268.0 542.0,227.4 542.3,260.4 542.5,229.7 542.8,254.8 543.1,240.3 543.3,262.4 543.6,234.6 543.8,266.6 544.1,242.9 544.3,260.2 544.6,242.9 544.8,269.6 545.1,243.0 545.3,266.8 545.6,246.4 545.8,271.7 546.1,246.0 546.3,267.2 546.6,243.5 546.8,257.1 547.1,239.9 547.3,255.0 547.6,223.0 547.8,258.0 548.1,235.0 548.3,256.4 548.6,235.3 548.8,261.8 549.1,235.1 549.3,263.6 549.6,237.9 549.8,257.6 550.1,241.9 550.3,266.0 550.6,247.6 550.8,266.0 551.1,236.8 551.3,270.0 551.6,251.5 551.8,267.0 552.1,243.3 552.3,264.4 552.6,241.6 552.8,264.5 553.1,238.5 553.3,265.7 553.6,245.5 553.8,263.3 554.1,243.0 554.3,271.6 554.6,246.9 554.8,266.6 555.1,247.3 555.3,271.8 555.6,243.0 555.8,262.3 556.1,238.1 556.3,277.0 556.6,233.3 556.8,263.5 557.1,243.0 557.3,265.4 557.6,236.4 557.8,264.4 558.1,246.3 558.3,275.8 558.6,239.7 558.8,275.3 559.1,233.6 559.3,261.1 559.6,246.1 559.8,272.5 560.1,238.5 560.3,258.8 560.6,235.7 560.8,269.8 561.1,234.9 561.3,261.5 561.6,227.2 561.8,258.9 562.1,233.3 562.3,259.8 562.6,229.6 562.8,254.9 563.1,237.4 563.3,258.2 563.6,246.3 563.8,270.1 564.1,239.3 564.3,267.2 564.6,246.5 564.8,265.1 565.1,248.7 565.4,266.3 565.6,247.9 565.9,269.5 566.1,244.7 566.4,282.3 566.6,236.0 566.9,262.9 567.1,241.9 567.4,271.9 567.6,237.0 567.9,273.8 568.1,241.1 568.4,264.5 568.6,235.3 568.9,260.8 569.1,240.5 569.4,255.4 569.6,239.7 569.9,274.4 570.1,245.7 570.4,266.2 570.6,238.2 570.9,261.8 571.1,229.5 571.4,260.2 571.6,236.3 571.9,260.0 572.1,227.0 572.4,266.6 572.6,235.5 572.9,265.0 573.1,241.1 573.4,262.0 573.6,237.5 573.9,253.8 574.1,235.9 574.4,266.3 574.6,237.3 574.9,268.8 575.1,209.8 575.4,252.5 575.6,231.7 575.9,262.7 576.1,230.5 576.4,272.1 576.6,236.7 576.9,260.7 577.1,247.6 577.4,264.6 577.6,235.9 577.9,263.1 578.1,238.4 578.4,270.3 578.6,243.9 578.9,266.7 579.1,246.9 579.4,270.9 579.6,247.7 579.9,269.1 580.1,247.5 580.4,264.4 580.6,235.6 580.9,271.9 581.1,247.6 581.4,276.7 581.6,249.3 581.9,275.8 582.1,242.2 582.4,265.9 582.6,233.4 582.9,263.1 583.1,243.1 583.4,276.1 583.6,246.5 583.9,267.4 584.1,240.5 584.4,269.3 584.6,248.8 584.9,258.6 585.1,237.1 585.4,259.6 585.6,230.3 585.9,256.9 586.1,235.9 586.4,265.9 586.6,235.2 586.9,256.2 587.1,239.7 587.4,266.2 587.6,235.4 587.9,257.8 588.2,238.0 588.4,259.1 588.7,230.8 588.9,262.3 589.2,235.3 589.4,261.5 589.7,229.6 589.9,253.4 590.2,242.6 590.4,259.5 590.7,239.8 590.9,263.6 591.2,239.9 591.4,267.2 591.7,231.2 591.9,254.3 592.2,210.2 592.4,257.1 592.7,231.7 592.9,260.3 593.2,241.8 593.4,263.8 593.7,237.4 593.9,258.9 594.2,234.6 594.4,267.3 594.7,241.6 594.9,258.4 595.2,242.0 595.4,266.8 595.7,235.0 595.9,262.2 596.2,238.7 596.4,262.9 596.7,243.0 596.9,264.8 597.2,250.5 597.4,266.7 597.7,241.6 597.9,261.2 598.2,238.0 598.4,266.7 598.7,241.9 598.9,258.9 599.2,240.9 599.4,266.0 599.7,243.9 599.9,263.3 600.2,242.4 600.4,268.9 600.7,237.9 600.9,264.2 601.2,237.2 601.4,258.0 601.7,232.9 601.9,263.5 602.2,238.8 602.4,266.1 602.7,233.1 602.9,278.7 603.2,241.8 603.4,258.9 603.7,246.3 603.9,263.8 604.2,229.5 604.4,255.4 604.7,235.3 604.9,259.2 605.2,225.9 605.4,252.2 605.7,245.1 605.9,259.3 606.2,241.4 606.4,259.8 606.7,234.4 606.9,259.5 607.2,231.8 607.4,264.4 607.7,237.9 607.9,259.4 608.2,246.4 608.4,262.0 608.7,234.6 608.9,264.9 609.2,243.3 609.4,264.4 609.7,238.2 609.9,267.7 610.2,243.4 610.5,261.1 610.7,238.4 611.0,263.3 611.2,241.1 611.5,268.4 611.7,237.3 612.0,262.1 612.2,240.5 612.5,265.0 612.7,238.4 613.0,266.5 613.2,233.8 613.5,263.5 613.7,241.6 614.0,268.5 614.2,237.9 614.5,274.5 614.7,240.1 615.0,263.0 615.2,234.8 615.5,270.9 615.7,242.9 616.0,263.0 616.2,236.3 616.5,263.9 616.7,239.1 617.0,266.9 617.2,249.1 617.5,269.2 617.7,237.8 618.0,260.4 618.2,246.1 618.5,263.8 618.7,236.8 619.0,265.1 619.2,242.6 619.5,260.0 619.7,243.9 620.0,259.2 620.2,225.9 620.5,264.8 620.7,232.0 621.0,255.3 621.2,239.5 621.5,265.0 621.7,246.0 622.0,266.3 622.2,234.2 622.5,267.2 622.7,232.2 623.0,270.5 623.2,237.2 623.5,267.7 623.7,242.2 624.0,268.4 624.2,238.4 624.5,263.6 624.7,238.4 625.0,260.4 625.2,243.8 625.5,264.0 625.7,242.4 626.0,267.8 626.2,241.8 626.5,257.8 626.7,232.1 627.0,261.2 627.2,238.2 627.5,258.4 627.7,237.5 628.0,269.5 628.2,231.0 628.5,272.7 628.7,241.0 629.0,259.7 629.2,242.1 629.5,263.4 629.7,241.9 630.0,260.7 630.2,234.6 630.5,260.8 630.7,237.8 631.0,256.5 631.2,227.1 631.5,257.3 631.7,242.7 632.0,263.4 632.2,236.6 632.5,258.9 632.7,243.0 633.0,260.3" stroke="#1f77b4"/><polyline points="629.0,250.7 629.3,291.4 629.6,249.6 629.9,291.8 630.1,248.4 630.4,290.0 630.7,248.4 631.0,290.1" stroke="#1f77b4"/><path d="M642.2 246.0L642.8 235.9L643.3 246.0M642.6 246.0L642.8 238.0L643.0 246.0M653.6 246.0L654.0 235.6L654.4 246.0M654.0 246.0L654.4 233.2L654.7 246.0M658.8 246.0L659.2 232.8L659.7 246.0M660.3 246.0L660.6 238.7L660.9 246.0M660.4 246.0L660.7 234.2L661.0 246.0M661.4 246.0L661.6 232.9L661.8 246.0" stroke="#ff7f0e"/><path d="M652.9 246.0L653.1 224.4L653.3 246.0M654.5 246.0L654.7 226.5L654.9 246.0M655.3 246.0L655.6 224.1L655.9 246.0M655.4 246.0L655.8 224.1L656.1 246.0" stroke="#7f7f7f"/><polyline points="633.0,243.3 633.3,265.4 633.5,236.8 633.8,265.2 634.0,244.9 634.3,269.6 634.5,246.2 634.8,263.0 635.0,231.6 635.3,265.5 635.5,240.3 635.8,259.9 636.0,226.4 636.3,262.9 636.5,237.4 636.8,260.7 637.0,239.6 637.3,268.9 637.5,246.1 637.8,272.3 638.0,238.8 638.3,279.2 638.5,246.5 638.8,275.5 639.1,246.9 639.3,266.4 639.6,247.0 639.8,268.0 640.1,237.7 640.3,268.0 640.6,238.2 640.8,269.0 641.1,244.6 641.3,265.4 641.6,239.5 641.8,263.2 642.1,241.9 642.3,265.3 642.6,232.7 642.8,262.0 643.1,230.3 643.3,254.8 643.6,224.0 643.8,261.7 644.1,230.2 644.4,256.6 644.6,229.6 644.9,263.4 645.1,244.6 645.4,270.8 645.6,247.5 645.9,267.7 646.1,241.7 646.4,266.8 646.6,249.4 646.9,279.6 647.1,240.3 647.4,268.7 647.6,243.8 647.9,269.9 648.1,242.6 648.4,272.2 648.6,240.0 648.9,267.2 649.1,233.9 649.4,265.7 649.6,237.7 649.9,274.3 650.2,237.2 650.4,270.3 650.7,234.7 650.9,276.1 651.2,252.5 651.4,270.4 651.7,231.0 651.9,261.1 652.2,237.5 652.4,256.1 652.7,233.0 652.9,254.9 653.2,240.7 653.4,268.5 653.7,244.2 653.9,272.8 654.2,243.4 654.4,272.1 654.7,245.0 654.9,265.5 655.2,237.2 655.5,267.4 655.7,244.2 656.0,270.2 656.2,247.2 656.5,269.4 656.7,240.1 657.0,266.1 657.2,246.0 657.5,270.4 657.7,235.5 658.0,263.9 658.2,238.4 658.5,264.4 658.7,230.6 659.0,258.2 659.2,231.0 659.5,258.5 659.7,231.2 660.0,255.3 660.2,229.8 660.5,258.3 660.7,219.9 661.0,263.2" stroke="#9467bd"/><polyline points="695.0,245.0 695.3,268.2 695.5,238.8 695.8,271.1 696.0,234.7 696.3,268.0 696.5,235.5 696.8,261.7 697.0,237.8 697.3,267.2 697.5,232.0 697.8,266.6 698.0,235.7 698.3,269.8 698.5,235.4 698.8,265.3 699.0,241.6 699.3,274.0 699.5,240.3 699.8,260.7 700.0,235.5 700.3,269.2 700.5,247.3 700.8,266.1 701.0,242.1 701.3,274.8 701.5,241.7 701.8,265.6 702.0,250.6 702.3,279.7 702.5,243.0 702.8,276.0 703.0,239.2 703.3,282.4 703.5,241.2 703.8,277.0 704.1,246.5 704.3,268.3 704.6,241.5 704.8,275.2 705.1,247.2 705.3,269.7 705.6,245.1 705.8,278.3 706.1,244.2 706.3,272.5 706.6,237.4 706.8,272.2 707.1,246.7 707.3,276.7 707.6,233.8 707.8,273.1 708.1,242.3 708.3,276.4 708.6,241.9 708.8,270.3 709.1,237.6 709.3,271.9 709.6,244.9 709.8,275.8 710.1,241.0 710.3,262.9 710.6,240.6 710.8,266.3 711.1,230.7 711.3,279.3 711.6,232.8 711.8,263.5 712.1,237.7 712.3,267.1 712.6,240.8 712.8,270.9 713.1,239.4 713.4,274.9 713.6,245.0 713.9,264.7 714.1,239.6 714.4,273.5 714.6,253.7 714.9,283.3 715.1,245.6 715.4,276.6 715.6,243.5 715.9,284.7 716.1,246.6 716.4,273.6 716.6,245.8 716.9,279.4 717.1,249.0 717.4,273.5 717.6,246.4 717.9,269.7 718.1,248.6 718.4,277.4 718.6,233.1 718.9,270.5 719.1,246.3 719.4,274.9 719.6,242.7 719.9,274.1 720.1,244.5 720.4,269.4 720.6,244.6 720.9,273.0 721.1,243.4 721.4,276.4 721.6,237.1 721.9,261.1 722.2,248.4 722.4,268.4 722.7,242.1 722.9,276.6 723.2,237.7 723.4,268.0 723.7,245.5 723.9,272.1 724.2,239.7 724.4,267.8 724.7,231.4 724.9,265.9 725.2,234.8 725.4,276.5 725.7,241.1 725.9,268.4 726.2,242.0 726.4,270.4 726.7,230.3 726.9,272.4 727.2,239.1 727.4,268.9 727.7,227.9 727.9,264.3 728.2,236.1 728.4,266.8 728.7,234.2 728.9,269.2 729.2,227.4 729.4,273.9 729.7,238.6 729.9,272.8 730.2,233.3 730.4,271.3 730.7,240.3 730.9,270.5 731.2,233.2 731.5,263.7 731.7,229.9 732.0,266.7 732.2,238.4 732.5,262.0 732.7,236.9 733.0,279.5 733.2,247.7 733.5,278.3 733.7,244.7 734.0,275.9 734.2,242.5 734.5,271.9 734.7,245.2 735.0,271.5 735.2,243.3 735.5,271.7 735.7,233.0 736.0,263.6 736.2,240.5 736.5,262.7 736.7,244.1 737.0,273.3 737.2,247.1 737.5,269.9 737.7,245.0 738.0,279.7 738.2,243.5 738.5,269.3 738.7,236.1 739.0,267.5 739.2,237.6 739.5,259.7 739.7,238.4 740.0,256.8" stroke="#7f7f7f"/><polyline points="700.0,231.7 700.3,259.5 700.5,238.0 700.8,264.4 701.0,235.7 701.3,263.8 701.5,227.8 701.8,252.9 702.0,234.2 702.3,260.6 702.5,237.2 702.8,276.2 703.0,244.2 703.3,268.0 703.5,235.7 703.8,273.6 704.0,242.4 704.3,270.3 704.5,244.8 704.8,273.1 705.0,244.2 705.3,274.0 705.5,238.0 705.8,274.1 706.0,249.3 706.3,266.8 706.5,239.0 706.8,278.3 707.0,235.1 707.3,267.4 707.5,235.5 707.8,274.8 708.1,238.4 708.3,279.0 708.6,244.1 708.8,269.1 709.1,243.7 709.3,274.8 709.6,230.2 709.8,270.3 710.1,229.1 710.3,266.1 710.6,241.9 710.8,269.7 711.1,236.1 711.3,265.7 711.6,235.8 711.8,267.4 712.1,236.9 712.3,270.8 712.6,236.0 712.8,264.2 713.1,245.8 713.3,264.9 713.6,237.9 713.8,272.7 714.1,239.3 714.3,266.6 714.6,241.2 714.8,271.6 715.1,237.2 715.3,266.0 715.6,238.4 715.8,267.2 716.1,231.9 716.4,259.8 716.6,231.2 716.9,264.4 717.1,225.2 717.4,259.0 717.6,233.8 717.9,255.1 718.1,233.9 718.4,261.7 718.6,220.9 718.9,267.1 719.1,235.0 719.4,270.7 719.6,232.6 719.9,265.6 720.1,239.3 720.4,264.0 720.6,242.6 720.9,273.6 721.1,234.8 721.4,271.0 721.6,243.8 721.9,277.6 722.1,247.4 722.4,273.5 722.6,239.2 722.9,275.2 723.1,242.0 723.4,266.5 723.6,231.3 723.9,267.8 724.2,243.6 724.4,272.0 724.7,236.9 724.9,266.7 725.2,236.4 725.4,267.4 725.7,241.8 725.9,268.3 726.2,245.0 726.4,266.1 726.7,239.0 726.9,272.3 727.2,245.0 727.4,269.9 727.7,246.8 727.9,268.8 728.2,240.7 728.4,266.0 728.7,239.6 728.9,268.0 729.2,241.0 729.4,263.1 729.7,240.9 729.9,267.4 730.2,242.2 730.4,272.9 730.7,240.6 730.9,275.5 731.2,224.2 731.4,266.4 731.7,234.9 731.9,261.7 732.2,225.2 732.5,259.4 732.7,232.0 733.0,253.3 733.2,229.9 733.5,268.7 733.7,231.5 734.0,266.6 734.2,238.5 734.5,265.0 734.7,238.8 735.0,262.3 735.2,238.5 735.5,272.4 735.7,238.6 736.0,271.0 736.2,241.9 736.5,267.6 736.7,245.6 737.0,275.5 737.2,246.8 737.5,275.8 737.7,249.6 738.0,276.7 738.2,236.9 738.5,273.7 738.7,244.1 739.0,267.4 739.2,241.8 739.5,267.3 739.7,243.3 740.0,273.2" stroke="#9467bd"/><polyline points="735.0,261.9 735.3,278.2 735.5,265.1 735.8,284.7 736.0,267.7 736.3,289.2 736.5,264.0 736.8,285.3 737.0,264.4 737.3,283.0 737.5,265.7 737.8,282.3 738.0,261.9 738.3,286.6 738.5,267.4 738.8,286.1 739.0,263.7 739.3,287.2 739.5,264.6 739.8,282.4 740.1,263.8 740.3,283.6 740.6,260.9 740.8,287.1 741.1,266.1 741.3,277.6 741.6,264.1 741.8,283.2 742.1,261.3 742.3,289.7 742.6,259.7 742.8,285.9 743.1,258.5 743.3,286.3 743.6,255.6 743.8,278.5 744.1,259.2 744.3,281.4 744.6,265.7 744.8,283.5 745.1,263.2 745.4,281.2 745.6,259.9 745.9,281.2 746.1,258.3 746.4,283.1 746.6,257.3 746.9,288.2 747.1,251.5 747.4,275.5 747.6,255.0 747.9,273.9 748.1,262.5 748.4,284.0 748.6,254.9 748.9,279.4 749.1,260.7 749.4,277.1 749.6,257.7 749.9,287.2 750.2,262.7 750.4,282.9 750.7,261.5 750.9,287.0 751.2,262.2 751.4,279.7 751.7,256.0 751.9,286.2 752.2,259.0 752.4,280.8 752.7,250.7 752.9,276.9 753.2,260.4 753.4,281.2 753.7,251.1 753.9,272.4 754.2,255.0 754.4,283.6 754.7,258.7 754.9,283.0 755.2,260.6 755.5,287.4 755.7,257.2 756.0,277.0 756.2,253.5 756.5,280.6 756.7,264.3 757.0,283.6 757.2,269.8 757.5,285.9 757.7,264.4 758.0,290.3 758.2,263.0 758.5,286.5 758.7,266.4 759.0,285.8 759.2,263.4 759.5,287.9 759.7,262.5 760.0,286.5" stroke="#17becf"/><polyline points="675.0,255.3 675.3,271.1 675.5,246.7 675.8,261.9 676.0,237.1 676.3,255.8 676.5,247.9 676.8,268.6 677.0,249.7 677.3,273.1 677.5,249.0 677.8,270.3 678.0,239.6 678.3,263.7 678.5,239.7 678.8,263.9 679.0,227.6 679.3,255.3 679.5,236.9 679.8,255.3 680.0,240.1 680.3,260.8 680.5,240.8 680.8,252.8 681.0,234.9 681.3,244.6 681.5,230.6 681.8,250.1 682.0,227.0 682.3,262.3 682.5,233.1 682.8,262.7 683.0,240.7 683.3,265.5 683.5,239.9 683.8,256.3 684.0,230.3 684.3,256.6 684.5,236.8 684.8,273.5 685.0,236.5 685.3,262.8 685.5,237.2 685.8,261.3 686.0,248.5 686.3,264.0 686.5,247.5 686.8,267.0 687.0,252.0 687.3,265.6 687.5,221.5 687.8,259.1 688.0,225.5 688.3,246.2 688.5,225.6 688.8,254.5 689.1,236.4 689.3,253.7 689.6,237.0 689.8,252.2 690.1,236.4 690.3,264.4 690.6,244.7 690.8,263.4 691.1,237.5 691.3,255.6 691.6,237.1 691.8,256.2 692.1,239.0 692.3,263.2 692.6,244.5 692.8,259.5 693.1,237.3 693.3,262.6 693.6,229.4 693.8,270.7 694.1,249.8 694.3,262.7 694.6,248.9 694.8,265.8 695.1,253.0 695.3,268.9 695.6,253.9 695.8,274.2 696.1,261.8 696.3,277.2 696.6,257.2 696.8,274.9 697.1,250.5 697.3,269.1 697.6,253.0 697.8,275.4 698.1,257.0 698.3,280.1 698.6,249.5 698.8,270.5 699.1,241.8 699.3,265.7 699.6,239.9 699.8,272.2 700.1,241.1 700.3,266.3 700.6,230.3 700.8,255.1 701.1,236.2 701.3,253.2 701.6,228.8 701.8,256.0 702.1,231.5 702.3,252.9 702.6,225.0 702.8,250.3 703.1,226.3 703.4,247.2 703.6,221.5 703.9,258.5 704.1,236.6 704.4,255.5 704.6,231.9 704.9,263.7 705.1,225.3 705.4,247.2 705.6,231.5 705.9,253.4 706.1,241.5 706.4,265.3 706.6,246.7 706.9,274.9 707.1,236.4 707.4,264.9 707.6,246.9 707.9,272.5 708.1,238.0 708.4,262.7 708.6,238.0 708.9,256.9 709.1,244.2 709.4,258.2 709.6,241.9 709.9,264.6 710.1,245.8 710.4,263.3 710.6,233.7 710.9,255.5 711.1,236.5 711.4,265.7 711.6,239.2 711.9,261.9 712.1,244.1 712.4,266.9 712.6,241.9 712.9,266.5 713.1,235.8 713.4,262.9 713.6,228.5 713.9,263.6 714.1,257.1 714.4,269.4 714.6,251.8 714.9,272.5 715.1,251.8 715.4,267.9 715.6,240.1 715.9,268.4 716.1,240.2 716.4,256.4 716.6,222.0 716.9,251.1 717.2,242.7 717.4,263.7 717.7,251.0 717.9,269.6 718.2,247.6 718.4,274.5 718.7,259.7 718.9,278.5 719.2,259.1 719.4,279.3 719.7,246.0 719.9,268.9 720.2,237.5 720.4,260.3 720.7,240.7 720.9,261.2 721.2,233.8 721.4,256.8 721.7,229.2 721.9,249.3 722.2,222.7 722.4,247.4 722.7,217.3 722.9,242.8 723.2,212.6 723.4,242.9 723.7,236.3 723.9,257.2 724.2,245.2 724.4,268.9 724.7,244.5 724.9,271.6 725.2,232.3 725.4,256.3 725.7,240.1 725.9,259.9 726.2,247.1 726.4,264.4 726.7,251.5 726.9,270.1 727.2,226.1 727.4,265.4 727.7,234.9 727.9,252.6 728.2,226.4 728.4,259.8 728.7,226.6 728.9,247.7 729.2,229.4 729.4,248.6 729.7,227.7 729.9,253.4 730.2,235.2 730.4,253.6 730.7,243.9 730.9,264.4 731.2,247.3 731.5,265.9 731.7,247.8 732.0,268.4 732.2,240.2 732.5,267.1 732.7,241.3 733.0,262.9 733.2,236.9 733.5,272.9 733.7,240.7 734.0,264.0 734.2,246.6 734.5,266.7 734.7,236.0 735.0,266.9 735.2,222.6 735.5,238.7 735.7,224.7 736.0,261.0 736.2,247.1 736.5,266.9 736.7,238.7 737.0,259.2 737.2,249.0 737.5,266.1 737.7,249.3 738.0,271.2 738.2,250.4 738.5,270.3 738.7,254.8 739.0,268.4 739.2,252.3 739.5,274.8 739.7,248.9 740.0,269.0 740.2,246.5 740.5,266.7 740.7,237.1 741.0,257.5 741.2,244.5 741.5,261.8 741.7,243.1 742.0,262.5 742.2,235.5 742.5,261.2 742.7,237.2 743.0,257.5 743.2,244.1 743.5,260.0 743.7,242.0 744.0,254.5 744.2,230.5 744.5,256.8 744.7,231.3 745.0,248.1" stroke="#d62728"/><polyline points="681.0,210.8 681.3,239.4 681.6,210.7 681.9,238.2 682.1,211.0 682.4,240.2 682.7,211.6 683.0,239.3" stroke="#d62728"/><polyline points="698.0,258.8 698.3,295.5 698.6,260.2 698.9,294.7 699.1,260.6 699.4,293.9 699.7,260.6 700.0,293.3" stroke="#d62728"/><polyline points="659.0,250.2 659.3,261.0 659.5,239.6 659.8,265.0 660.0,241.2 660.3,266.0 660.5,247.5 660.8,271.0 661.0,239.8 661.3,263.5 661.5,248.2 661.8,267.6 662.0,248.9 662.3,276.4 662.5,255.7 662.8,268.7 663.0,252.5 663.3,272.6 663.5,253.9 663.8,280.7 664.0,260.0 664.3,275.4 664.5,258.6 664.8,276.3 665.0,251.8 665.3,271.5 665.6,243.4 665.8,259.9 666.1,248.5 666.3,265.9 666.6,244.7 666.8,260.3 667.1,245.8 667.3,264.0 667.6,251.0 667.8,267.3 668.1,244.1 668.3,261.8 668.6,253.7 668.8,272.0 669.1,242.7 669.3,268.2 669.6,241.5 669.8,254.2 670.1,235.1 670.3,256.9 670.6,234.8 670.8,253.2 671.1,234.5 671.3,249.9 671.6,237.5 671.9,251.1 672.1,237.3 672.4,253.1 672.6,238.8 672.9,259.3 673.1,242.2 673.4,258.6 673.6,243.1 673.9,261.3 674.1,235.2 674.4,257.2 674.6,236.1 674.9,252.4 675.1,232.7 675.4,256.2 675.6,222.7 675.9,252.1 676.1,219.1 676.4,239.6 676.6,222.9 676.9,249.1 677.1,225.8 677.4,252.5 677.7,224.1 677.9,245.4 678.2,234.6 678.4,254.8 678.7,243.8 678.9,260.3 679.2,242.4 679.4,257.6 679.7,235.5 679.9,262.8 680.2,250.4 680.4,270.0 680.7,250.9 680.9,271.3 681.2,249.0 681.4,262.2 681.7,253.7 681.9,271.0 682.2,247.3 682.4,271.6 682.7,253.4 682.9,271.1 683.2,251.8 683.4,279.5 683.7,250.3 684.0,267.9 684.2,242.6 684.5,268.1 684.7,240.9 685.0,260.6 685.2,246.2 685.5,264.9 685.7,240.8 686.0,260.8 686.2,236.9 686.5,254.2 686.7,242.2 687.0,266.2 687.2,247.2 687.5,266.9 687.7,249.7 688.0,272.5 688.2,247.5 688.5,271.4 688.7,254.6 689.0,266.1 689.2,252.6 689.5,272.5 689.7,242.9 690.0,270.3" stroke="#bcbd22"/><polyline points="765.0,219.4 765.3,245.2 765.6,220.2 765.9,245.3 766.1,219.7 766.4,246.0 766.7,219.8 767.0,245.6" stroke="#7f7f7f"/><polyline points="769.0,224.8 769.3,245.4 769.6,225.4 769.9,245.2 770.1,224.8 770.4,244.6 770.7,225.9 771.0,245.0" stroke="#7f7f7f"/><polyline points="760.0,241.7 760.3,270.5 760.5,243.5 760.8,276.5 761.0,248.4 761.3,279.2 761.5,245.0 761.8,272.2 762.0,245.9 762.3,273.1 762.5,250.3 762.8,268.3 763.0,235.7 763.3,269.1 763.5,247.4 763.8,270.0 764.0,241.7 764.3,266.8 764.5,241.5 764.8,265.4 765.0,241.4 765.3,266.0 765.5,237.7 765.8,265.0 766.0,240.5 766.3,264.1 766.5,241.4 766.8,264.1 767.0,245.9 767.3,266.3 767.5,237.9 767.8,263.5 768.0,239.7 768.3,263.3 768.5,243.1 768.8,273.9 769.1,238.9 769.3,268.9 769.6,239.6 769.8,260.4 770.1,242.1 770.3,267.5 770.6,235.3 770.8,262.9 771.1,230.8 771.3,257.4 771.6,233.7 771.8,260.8 772.1,237.8 772.3,260.9 772.6,224.4 772.8,259.0 773.1,230.3 773.3,263.6 773.6,236.0 773.8,258.1 774.1,233.5 774.3,270.1 774.6,240.7 774.8,268.4 775.1,243.9 775.3,264.2 775.6,235.0 775.8,264.7 776.1,239.8 776.3,271.3 776.6,241.7 776.8,260.2 777.1,236.6 777.3,268.5 777.6,229.9 777.8,259.2 778.1,239.1 778.4,266.1 778.6,242.2 778.9,263.6 779.1,241.2 779.4,259.4 779.6,239.8 779.9,262.7 780.1,242.0 780.4,260.8 780.6,241.9 780.9,268.2 781.1,240.4 781.4,267.7 781.6,244.7 781.9,272.0 782.1,246.8 782.4,267.9 782.6,248.2 782.9,272.2 783.1,240.8 783.4,271.5 783.6,242.6 783.9,261.8 784.1,235.6 784.4,266.1 784.6,244.6 784.9,267.0 785.1,237.4 785.4,266.6 785.6,246.4 785.9,273.3 786.1,243.5 786.4,267.1 786.6,238.1 786.9,273.5 787.2,240.2 787.4,261.9 787.7,240.8 787.9,267.4 788.2,238.7 788.4,261.5 788.7,235.4 788.9,265.0 789.2,229.9 789.4,258.2 789.7,234.7 789.9,257.3 790.2,236.2 790.4,261.0 790.7,233.2 790.9,262.0 791.2,237.4 791.4,263.7 791.7,243.2 791.9,262.9 792.2,244.9 792.4,264.4 792.7,237.8 792.9,268.4 793.2,238.4 793.4,264.2 793.7,233.5 793.9,267.4 794.2,242.6 794.4,260.8 794.7,238.2 794.9,258.9 795.2,230.5 795.4,256.7 795.7,234.8 795.9,260.8 796.2,246.5 796.5,270.9 796.7,234.5 797.0,270.6 797.2,251.1 797.5,267.4 797.7,243.5 798.0,270.3 798.2,243.9 798.5,268.8 798.7,234.8 799.0,269.5 799.2,240.0 799.5,263.5 799.7,235.8 800.0,256.3 800.2,222.0 800.5,257.6 800.7,237.4 801.0,259.0 801.2,242.9 801.5,267.6 801.7,231.4 802.0,261.7 802.2,239.4 802.5,268.4 802.7,242.4 803.0,275.8 803.2,250.8 803.5,271.7 803.7,236.9 804.0,278.2 804.2,245.6 804.5,265.2 804.7,235.1 805.0,274.2" stroke="#2ca02c"/><polyline points="740.0,241.4 740.3,267.8 740.5,239.8 740.8,273.1 741.0,250.3 741.3,270.3 741.5,244.8 741.8,264.8 742.0,241.6 742.3,266.8 742.5,240.0 742.8,261.8 743.0,233.0 743.3,266.6 743.5,240.8 743.8,268.4 744.0,238.2 744.3,266.4 744.5,236.9 744.8,260.5 745.0,228.7 745.3,258.2 745.5,231.0 745.8,266.6 746.0,235.2 746.3,259.7 746.5,246.0 746.8,265.7 747.0,242.5 747.3,267.2 747.5,236.1 747.8,265.3 748.0,233.3 748.3,263.8 748.5,239.3 748.8,266.5 749.0,237.7 749.3,265.4 749.5,239.0 749.8,263.9 750.1,237.3 750.3,264.5 750.6,228.7 750.8,261.8 751.1,232.5 751.3,272.1 751.6,235.1 751.8,259.1 752.1,232.8 752.3,262.9 752.6,238.4 752.8,258.5 753.1,231.0 753.3,256.8 753.6,234.8 753.8,256.0 754.1,231.1 754.3,254.6 754.6,240.3 754.8,255.6 755.1,241.6 755.3,262.8 755.6,234.4 755.8,262.9 756.1,247.2 756.3,263.5 756.6,245.1 756.8,267.0 757.1,241.2 757.3,269.7 757.6,242.5 757.8,271.4 758.1,247.9 758.3,266.7 758.6,239.3 758.8,267.0 759.1,238.0 759.3,264.9 759.6,240.5 759.8,255.5 760.1,244.3 760.4,262.4 760.6,239.8 760.9,263.1 761.1,237.9 761.4,259.5 761.6,236.2 761.9,259.7 762.1,230.1 762.4,261.5 762.6,245.5 762.9,263.9 763.1,246.1 763.4,274.6 763.6,238.0 763.9,261.9 764.1,240.3 764.4,268.8 764.6,234.6 764.9,262.4 765.1,237.6 765.4,260.5 765.6,235.2 765.9,261.7 766.1,233.5 766.4,272.2 766.6,225.1 766.9,260.7 767.1,229.3 767.4,265.4 767.6,235.6 767.9,264.4 768.1,243.1 768.4,261.1 768.6,235.9 768.9,260.2 769.1,247.3 769.4,264.1 769.6,235.3 769.9,262.6 770.2,232.5 770.4,255.9 770.7,239.4 770.9,257.5 771.2,243.6 771.4,264.9 771.7,241.6 771.9,259.6 772.2,242.1 772.4,261.2 772.7,233.7 772.9,261.1 773.2,240.9 773.4,271.8 773.7,253.9 773.9,280.1 774.2,243.1 774.4,270.4 774.7,247.4 774.9,261.6 775.2,237.4 775.4,260.2 775.7,234.1 775.9,264.1 776.2,243.7 776.4,265.2 776.7,228.8 776.9,258.5 777.2,243.1 777.4,265.3 777.7,245.1 777.9,267.4 778.2,242.7 778.4,264.8 778.7,247.8 778.9,270.8 779.2,240.8 779.4,269.6 779.7,245.2 779.9,264.3 780.2,247.2 780.5,265.0 780.7,244.0 781.0,267.0 781.2,239.4 781.5,264.2 781.7,245.1 782.0,264.3 782.2,238.8 782.5,265.1 782.7,235.6 783.0,260.4 783.2,239.1 783.5,265.0 783.7,243.2 784.0,265.0 784.2,240.4 784.5,272.0 784.7,240.7 785.0,263.1 785.2,239.5 785.5,265.1 785.7,242.6 786.0,267.5 786.2,242.7 786.5,261.2 786.7,240.9 787.0,261.5 787.2,235.1 787.5,265.6 787.7,246.1 788.0,266.2 788.2,245.1 788.5,270.4 788.7,250.3 789.0,263.3 789.2,247.2 789.5,276.8 789.7,252.0 790.0,268.8" stroke="#d62728"/><polyline points="784.0,226.5 784.3,248.3 784.5,229.1 784.8,249.9 785.1,230.2 785.3,247.3 785.6,233.9 785.9,254.9 786.1,231.1 786.4,245.6 786.7,225.7 786.9,243.8 787.2,228.9 787.5,252.5 787.7,222.3 788.0,246.4" stroke="#d62728"/><polyline points="790.0,242.2 790.3,273.4 790.5,247.1 790.8,269.1 791.0,245.7 791.3,271.0 791.5,246.9 791.8,271.3 792.0,244.6 792.3,271.8 792.5,232.4 792.8,273.2 793.0,241.5 793.3,279.0 793.6,255.0 793.8,273.3 794.1,246.9 794.3,276.3 794.6,248.9 794.8,271.0 795.1,242.6 795.3,275.7 795.6,248.4 795.8,272.8 796.1,234.5 796.3,272.8 796.6,239.8 796.9,274.4 797.1,235.7 797.4,267.9 797.6,241.9 797.9,275.2 798.1,245.1 798.4,275.8 798.6,254.9 798.9,273.6 799.1,246.8 799.4,279.8 799.7,248.8 799.9,280.2 800.2,244.5 800.4,277.7 800.7,248.1 800.9,272.8 801.2,241.6 801.4,275.5 801.7,243.6 801.9,275.1 802.2,243.7 802.4,275.5 802.7,248.4 803.0,268.1 803.2,253.4 803.5,280.2 803.7,254.3 804.0,277.1 804.2,247.2 804.5,284.7 804.7,248.2 805.0,271.7 805.2,254.7 805.5,280.0 805.7,248.2 806.0,282.1" stroke="#d62728"/><polyline points="796.5,212.1 796.8,244.1 797.2,211.8 797.5,243.8" stroke="#1f77b4"/><path d="M805.8 262.0L806.3 271.0L806.8 262.0M805.8 262.0L806.0 273.9L806.1 262.0M808.9 262.0L809.2 276.9L809.5 262.0M810.0 262.0L810.3 281.1L810.5 262.0M812.0 262.0L812.2 275.9L812.4 262.0M814.2 262.0L814.5 275.5L814.8 262.0M814.9 262.0L815.2 275.0L815.4 262.0M815.6 262.0L815.9 272.3L816.2 262.0M817.3 262.0L817.6 280.3L817.9 262.0M817.5 262.0L817.7 277.4L818.0 262.0M817.8 262.0L818.1 273.4L818.3 262.0M818.9 262.0L819.1 281.3L819.3 262.0M825.7 262.0L826.2 275.7L826.7 262.0M826.2 262.0L826.7 281.9L827.2 262.0M827.4 262.0L827.8 279.1L828.2 262.0M830.5 262.0L830.9 272.7L831.2 262.0" stroke="#17becf"/><path d="M819.7 262.0L820.0 273.4L820.3 262.0M820.4 262.0L820.9 276.4L821.5 262.0M820.6 262.0L820.9 273.1L821.1 262.0M821.8 262.0L822.1 272.2L822.4 262.0M823.1 262.0L823.3 280.2L823.5 262.0M823.3 262.0L823.9 274.4L824.5 262.0M824.0 262.0L824.4 278.8L824.8 262.0M828.4 262.0L829.0 278.3L829.6 262.0M830.4 262.0L831.0 277.0L831.6 262.0M831.2 262.0L831.5 270.5L831.7 262.0" stroke="#7f7f7f"/><path d="M852.8 262.0L853.0 270.9L853.1 262.0M852.9 262.0L853.0 269.2L853.2 262.0M853.5 262.0L853.8 274.5L854.1 262.0M854.0 262.0L854.2 275.1L854.4 262.0M859.3 262.0L859.7 270.4L860.1 262.0M860.7 262.0L860.9 270.9L861.0 262.0" stroke="#7f7f7f"/><path d="M834.2 245.0L834.7 230.2L835.2 245.0M835.4 245.0L835.8 228.7L836.2 245.0M835.5 245.0L835.7 232.0L836.0 245.0M836.3 245.0L836.8 225.5L837.3 245.0" stroke="#ff7f0e"/><path d="M861.0 262.0L861.3 274.9L861.7 262.0M861.1 262.0L861.4 276.0L861.6 262.0M862.6 262.0L862.9 272.8L863.3 262.0M864.5 262.0L864.8 279.3L865.2 262.0" stroke="#ff7f0e"/><polyline points="805.0,229.2 805.3,254.8 805.5,236.5 805.8,259.3 806.0,238.9 806.3,257.3 806.5,231.1 806.8,252.1 807.0,238.3 807.3,259.2 807.5,237.9 807.8,261.3 808.0,234.1 808.3,263.4 808.5,242.6 808.8,265.2 809.0,242.0 809.3,261.1 809.5,241.4 809.8,259.9 810.0,241.6 810.3,270.4 810.5,239.5 810.8,260.7 811.0,239.2 811.3,274.0 811.5,243.8 811.8,261.7 812.0,233.7 812.3,263.8 812.5,248.8 812.8,265.2 813.0,248.3 813.3,266.0 813.5,247.7 813.8,269.1 814.0,246.2 814.3,267.7 814.5,244.8 814.8,268.2 815.0,240.4 815.3,269.2 815.5,243.1 815.8,267.0 816.0,246.6 816.3,276.2 816.5,234.1 816.8,256.5 817.1,227.4 817.3,260.1 817.6,236.2 817.8,253.0 818.1,233.7 818.3,252.5 818.6,229.2 818.8,249.6 819.1,226.7 819.3,255.4 819.6,231.3 819.8,259.4 820.1,235.5 820.3,254.0 820.6,239.6 820.8,257.4 821.1,243.2 821.3,259.0 821.6,240.5 821.8,259.6 822.1,239.0 822.3,265.7 822.6,248.4 822.8,266.3 823.1,244.2 823.3,270.1 823.6,243.7 823.8,261.8 824.1,241.1 824.3,263.7 824.6,247.5 824.8,263.9 825.1,250.8 825.3,269.7 825.6,247.3 825.8,266.4 826.1,245.6 826.3,263.2 826.6,236.6 826.8,258.7 827.1,242.5 827.3,265.7 827.6,236.9 827.8,262.7 828.1,246.2 828.3,265.0 828.6,242.6 828.8,265.5 829.1,247.2 829.4,262.1 829.6,238.1 829.9,262.8 830.1,234.6 830.4,261.6 830.6,230.7 830.9,253.2 831.1,234.1 831.4,257.5 831.6,242.8 831.9,262.6 832.1,236.0 832.4,260.3 832.6,236.6 832.9,262.3 833.1,248.6 833.4,258.9 833.6,242.5 833.9,263.3 834.1,237.5 834.4,258.9 834.6,237.6 834.9,269.0 835.1,239.0 835.4,254.8 835.6,237.4 835.9,258.7 836.1,236.5 836.4,263.6 836.6,239.9 836.9,259.3 837.1,238.2 837.4,259.5 837.6,242.9 837.9,255.9 838.1,234.8 838.4,260.6 838.6,243.4 838.9,266.7 839.1,247.1 839.4,267.1 839.6,247.3 839.9,266.6 840.1,247.7 840.4,269.7 840.6,246.1 840.9,274.5 841.2,241.5 841.4,269.8 841.7,240.0 841.9,260.6 842.2,247.0 842.4,264.4 842.7,237.5 842.9,266.6 843.2,237.8 843.4,259.8 843.7,238.6 843.9,263.2 844.2,234.2 844.4,261.1 844.7,236.7 844.9,259.8 845.2,241.9 845.4,260.9 845.7,242.8 845.9,266.2 846.2,241.4 846.4,258.0 846.7,238.6 846.9,265.1 847.2,241.1 847.4,263.0 847.7,240.9 847.9,259.4 848.2,243.4 848.4,267.1 848.7,241.5 848.9,259.9 849.2,241.1 849.4,268.7 849.7,244.9 849.9,271.1 850.2,242.8 850.4,266.2 850.7,233.3 850.9,265.6 851.2,239.1 851.4,263.1 851.7,241.1 851.9,262.4 852.2,236.2 852.4,266.6 852.7,241.0 852.9,261.6 853.2,240.6 853.5,262.9 853.7,237.9 854.0,258.0 854.2,236.9 854.5,260.3 854.7,228.9 855.0,259.2 855.2,239.1 855.5,265.3 855.7,235.6 856.0,261.0 856.2,235.9 856.5,258.6 856.7,235.6 857.0,264.7 857.2,233.7 857.5,258.9 857.7,235.7 858.0,251.4 858.2,232.3 858.5,260.5 858.7,245.4 859.0,266.0 859.2,245.3 859.5,267.0 859.7,244.9 860.0,269.9 860.2,242.0 860.5,262.8 860.7,230.4 861.0,264.2 861.2,236.1 861.5,262.3 861.7,227.7 862.0,260.3 862.2,231.9 862.5,259.1 862.7,240.9 863.0,261.2 863.2,235.1 863.5,253.9 863.7,229.4 864.0,255.6 864.2,240.1 864.5,261.7 864.7,230.8 865.0,258.2" stroke="#2ca02c"/><polyline points="165,248 865,229" stroke="#2ca02c" stroke-opacity="0.8"/><polyline points="376,244 659,243" stroke="#7f7f7f" stroke-opacity="0.8"/><polyline points="376,257 520,256" stroke="#bcbd22" stroke-opacity="0.8"/><polyline points="633,253 659,253" stroke="#bcbd22" stroke-opacity="0.8"/></g></g><path d="M125.5 60V446M900.5 60V446M125 60.5H901M125 445.5H901M239.5 445.5v4.86M402.5 445.5v4.86M565.5 445.5v4.86M729.5 445.5v4.86M892.5 445.5v4.86M125.5 60.5h-4.86M125.5 108.5h-4.86M125.5 156.5h-4.86M125.5 204.5h-4.86M125.5 253.5h-4.86M125.5 301.5h-4.86M125.5 349.5h-4.86M125.5 397.5h-4.86M125.5 445.5h-4.86" stroke="#000" stroke-width="1.11" fill="none"/><g fill="#000"><text x="229.58 239.47 249.35 259.24 268.07 276.87 286.55 295.19 304.24 310.22 319.91 329.95 333.91 343.74 349.07 354.72 364.04 372.52 382.55 387.26 392.39 401.02 405.53 416.18 426.37 435.18 445.62 451.15 461.03 469.86 478.69 488.40 492.94 503.55 513.27 519.04 528.93 537.75 546.57 557.00 562.54 572.42 581.25 590.07 599.94 604.02 615.70 625.32 636.16 640.50 649.77 659.71 664.73 675.88 691.29 702.00 713.22 722.55" y="51.67" font-size="17.66" transform="scale(1.07 1)">1112_no_radio/results/BX_gt35_1-P4-03_gt35_1 GPS L2(CM+CL)</text><text x="199.09 207.34 215.59 223.84 232.09 240.34" y="466.00" font-size="14.72" transform="scale(1.07 1)">600000</text><text x="351.52 359.77 368.02 376.27 384.52 392.77" y="466.00" font-size="14.72" transform="scale(1.07 1)">620000</text><text x="503.95 512.20 520.45 528.70 536.95 545.20" y="466.00" font-size="14.72" transform="scale(1.07 1)">640000</text><text x="656.31 664.56 672.81 681.06 689.31 697.56" y="466.00" font-size="14.72" transform="scale(1.07 1)">660000</text><text x="808.74 816.99 825.24 833.49 841.74 849.99" y="466.00" font-size="14.72" transform="scale(1.07 1)">680000</text><text x="91.42 99.67" y="66.00" font-size="14.72" transform="scale(1.07 1)">20</text><text x="91.29 99.54" y="114.00" font-size="14.72" transform="scale(1.07 1)">15</text><text x="91.29 99.54" y="162.00" font-size="14.72" transform="scale(1.07 1)">10</text><text x="99.59" y="210.00" font-size="14.72" transform="scale(1.07 1)">5</text><text x="99.59" y="258.00" font-size="14.72" transform="scale(1.07 1)">0</text><text x="89.83 99.59" y="306.00" font-size="14.72" transform="scale(1.07 1)">−5</text><text x="81.54 91.30 99.55" y="354.00" font-size="14.72" transform="scale(1.07 1)">−10</text><text x="81.54 91.30 99.55" y="402.00" font-size="14.72" transform="scale(1.07 1)">−15</text><text x="81.65 91.41 99.66" y="450.00" font-size="14.72" transform="scale(1.07 1)">−20</text><text x="452.09 460.36 463.99 476.33 484.43 488.61 493.29 500.42" y="486.20" font-size="14.72" transform="scale(1.07 1)">Time (s)</text><g transform="translate(76.3 301.62) rotate(-90)"><text x="-0.79 8.59 18.63 26.37 36.84 40.51 45.08 49.42 53.55 61.30 70.67 74.34 84.25" y="0.00" font-size="14.72" transform="scale(1.07 1)">CNoDiff dB Hz</text></g></g><g><rect x="922.44" y="74.3" width="90" height="470" rx="2.8" fill="#fff" fill-opacity="0.8" stroke="#cccccc" stroke-opacity="0.8" stroke-width="1.11"/><path d="M927.45 86.5H956.33" stroke="#1f77b4" stroke-opacity="0.7" stroke-width="1.11"/><text x="902.73 910.97 915.11" y="90.00" font-size="14.72" transform="scale(1.07 1)">3.0</text><path d="M927.45 107.5H956.33" stroke="#ff7f0e" stroke-opacity="0.7" stroke-width="1.11"/><text x="902.73 910.97 915.11" y="111.00" font-size="14.72" transform="scale(1.07 1)">4.0</text><path d="M927.45 128.5H956.33" stroke="#2ca02c" stroke-opacity="0.7" stroke-width="1.11"/><text x="902.73 910.97 915.11" y="132.00" font-size="14.72" transform="scale(1.07 1)">5.0</text><path d="M927.45 149.5H956.33" stroke="#d62728" stroke-opacity="0.7" stroke-width="1.11"/><text x="902.73 910.97 915.11" y="153.00" font-size="14.72" transform="scale(1.07 1)">6.0</text><path d="M927.45 170.5H956.33" stroke="#9467bd" stroke-opacity="0.7" stroke-width="1.11"/><text x="902.73 910.97 915.11" y="174.00" font-size="14.72" transform="scale(1.07 1)">7.0</text><path d="M927.45 191.5H956.33" stroke="#8c564b" stroke-opacity="0.7" stroke-width="1.11"/><text x="902.73 910.97 915.11" y="195.00" font-size="14.72" transform="scale(1.07 1)">8.0</text><path d="M927.45 212.5H956.33" stroke="#e377c2" stroke-opacity="0.7" stroke-width="1.11"/><text x="902.73 910.97 915.11" y="216.00" font-size="14.72" transform="scale(1.07 1)">9.0</text><path d="M927.45 232.5H956.33" stroke="#7f7f7f" stroke-opacity="0.7" stroke-width="1.11"/><text x="902.73 910.98 919.22 923.36" y="237.00" font-size="14.72" transform="scale(1.07 1)">10.0</text><path d="M927.45 253.5H956.33" stroke="#bcbd22" stroke-opacity="0.7" stroke-width="1.11"/><text x="902.73 910.98 919.22 923.36" y="258.00" font-size="14.72" transform="scale(1.07 1)">11.0</text><path d="M927.45 274.5H956.33" stroke="#17becf" stroke-opacity="0.7" stroke-width="1.11"/><text x="902.73 910.98 919.22 923.36" y="279.00" font-size="14.72" transform="scale(1.07 1)">12.0</text><path d="M927.45 295.5H956.33" stroke="#1f77b4" stroke-opacity="0.7" stroke-width="1.11"/><text x="902.73 910.98 919.22 923.36" y="300.00" font-size="14.72" transform="scale(1.07 1)">14.0</text><path d="M927.45 316.5H956.33" stroke="#ff7f0e" stroke-opacity="0.7" stroke-width="1.11"/><text x="902.73 910.98 919.22 923.36" y="321.00" font-size="14.72" transform="scale(1.07 1)">15.0</text><path d="M927.45 337.5H956.33" stroke="#2ca02c" stroke-opacity="0.7" stroke-width="1.11"/><text x="902.73 910.98 919.22 923.36" y="341.00" font-size="14.72" transform="scale(1.07 1)">17.0</text><path d="M927.45 358.5H956.33" stroke="#d62728" stroke-opacity="0.7" stroke-width="1.11"/><text x="902.73 910.98 919.22 923.36" y="362.00" font-size="14.72" transform="scale(1.07 1)">18.0</text><path d="M927.45 379.5H956.33" stroke="#9467bd" stroke-opacity="0.7" stroke-width="1.11"/><text x="902.73 910.98 919.22 923.36" y="383.00" font-size="14.72" transform="scale(1.07 1)">23.0</text><path d="M927.45 400.5H956.33" stroke="#8c564b" stroke-opacity="0.7" stroke-width="1.11"/><text x="902.73 910.98 919.22 923.36" y="404.00" font-size="14.72" transform="scale(1.07 1)">24.0</text><path d="M927.45 421.5H956.33" stroke="#e377c2" stroke-opacity="0.7" stroke-width="1.11"/><text x="902.73 910.98 919.22 923.36" y="425.00" font-size="14.72" transform="scale(1.07 1)">25.0</text><path d="M927.45 442.5H956.33" stroke="#7f7f7f" stroke-opacity="0.7" stroke-width="1.11"/><text x="902.73 910.98 919.22 923.36" y="446.00" font-size="14.72" transform="scale(1.07 1)">26.0</text><path d="M927.45 463.5H956.33" stroke="#bcbd22" stroke-opacity="0.7" stroke-width="1.11"/><text x="902.73 910.98 919.22 923.36" y="467.00" font-size="14.72" transform="scale(1.07 1)">27.0</text><path d="M927.45 484.5H956.33" stroke="#17becf" stroke-opacity="0.7" stroke-width="1.11"/><text x="902.73 910.98 919.22 923.36" y="488.00" font-size="14.72" transform="scale(1.07 1)">28.0</text><path d="M927.45 505.5H956.33" stroke="#1f77b4" stroke-opacity="0.7" stroke-width="1.11"/><text x="902.73 910.98 919.22 923.36" y="509.00" font-size="14.72" transform="scale(1.07 1)">29.0</text></g>
</svg>
</body></html>
